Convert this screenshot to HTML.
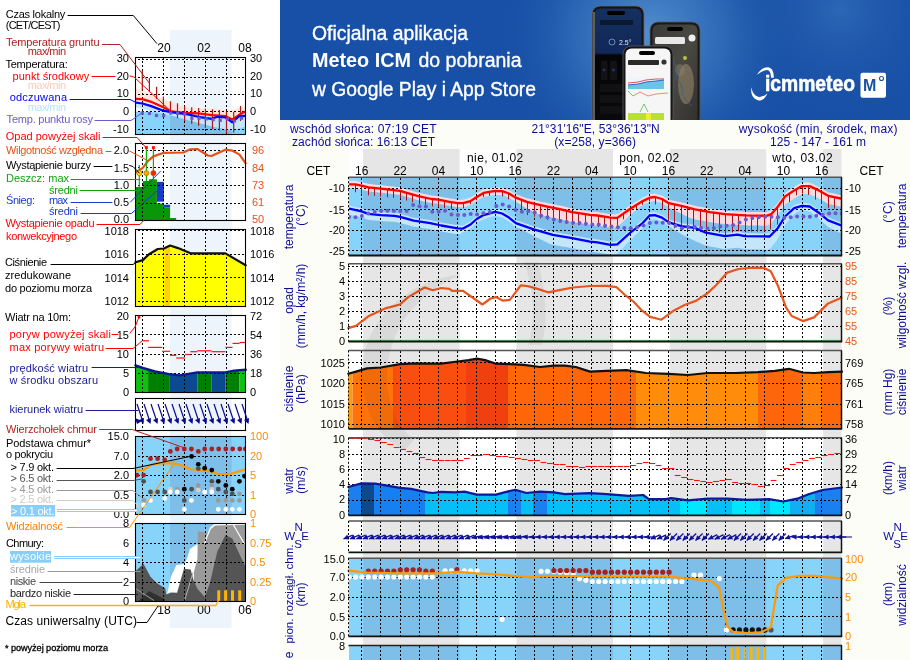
<!DOCTYPE html><html><head><meta charset="utf-8"><style>html,body{margin:0;padding:0;background:#fff;width:910px;height:660px;overflow:hidden;font-family:"Liberation Sans", sans-serif;}svg{display:block;will-change:transform;transform:translateZ(0);}</style></head><body><svg width="910" height="660" viewBox="0 0 910 660" style='font-family: "Liberation Sans", sans-serif;'>
<rect x="0" y="0" width="910" height="660" fill="#fdfdf8"/>
<rect x="0" y="0" width="280" height="660" fill="#ffffff"/>
<rect x="349.0" y="149" width="492.5" height="511" fill="#ffffff"/>
<rect x="363.1" y="149" width="96.5" height="511" fill="#e6e6e6"/>
<rect x="516.5" y="149" width="96.5" height="511" fill="#e6e6e6"/>
<rect x="669.8" y="149" width="96.5" height="511" fill="#e6e6e6"/>
<rect x="823.1" y="149" width="18.4" height="511" fill="#e6e6e6"/>
<clipPath id="cT"><rect x="348.97" y="177.2" width="492.53" height="78.30000000000001"/></clipPath>
<rect x="349.0" y="177.2" width="492.5" height="78.3" fill="#87d3fa"/><rect x="363.1" y="177.2" width="96.5" height="78.3" fill="#7ebfea"/><rect x="516.5" y="177.2" width="96.5" height="78.3" fill="#7ebfea"/><rect x="669.8" y="177.2" width="96.5" height="78.3" fill="#7ebfea"/><rect x="823.1" y="177.2" width="18.4" height="78.3" fill="#7ebfea"/>
<g clip-path="url(#cT)">
<polygon points="348.0,205.4 350.0,205.8 352.0,206.3 354.0,206.7 356.0,207.2 358.0,207.6 360.0,208.1 362.0,208.6 364.0,209.3 366.0,210.0 368.0,210.8 370.0,211.1 372.0,211.3 374.0,211.4 376.0,211.6 378.0,211.8 380.0,212.0 382.0,212.2 384.0,212.3 386.0,212.4 388.0,212.5 390.0,212.6 392.0,212.7 394.0,212.8 396.0,213.1 398.0,213.5 400.0,213.9 402.0,214.5 404.0,215.0 406.0,215.6 408.0,216.1 410.0,216.7 412.0,217.2 414.0,217.7 416.0,218.0 418.0,218.3 420.0,218.6 422.0,218.9 424.0,219.2 426.0,219.5 428.0,219.8 430.0,220.1 432.0,220.5 434.0,220.9 436.0,221.4 438.0,221.8 440.0,222.2 442.0,222.6 444.0,223.0 446.0,223.3 448.0,223.7 450.0,224.0 452.0,224.3 454.0,224.7 456.0,225.0 458.0,225.3 460.0,225.4 462.0,225.5 464.0,225.1 466.0,224.0 468.0,222.9 470.0,221.8 472.0,220.2 474.0,218.4 476.0,216.6 478.0,215.3 480.0,214.1 482.0,213.0 484.0,212.0 486.0,211.4 488.0,210.8 490.0,210.3 492.0,209.7 494.0,209.1 496.0,209.0 498.0,209.5 500.0,210.0 502.0,210.5 504.0,211.6 506.0,212.8 508.0,214.0 510.0,215.4 512.0,217.0 514.0,218.6 516.0,220.2 518.0,220.9 520.0,221.6 522.0,222.2 524.0,222.9 526.0,223.6 528.0,224.3 530.0,225.0 532.0,225.7 534.0,226.4 536.0,227.0 538.0,227.5 540.0,228.1 542.0,228.7 544.0,229.3 546.0,229.8 548.0,230.4 550.0,231.0 552.0,231.5 554.0,232.0 556.0,232.3 558.0,232.7 560.0,233.1 562.0,233.4 564.0,233.8 566.0,234.1 568.0,234.5 570.0,234.8 572.0,235.2 574.0,235.6 576.0,235.9 578.0,236.3 580.0,236.7 582.0,237.1 584.0,237.5 586.0,237.8 588.0,238.2 590.0,238.6 592.0,238.8 594.0,239.0 596.0,239.2 598.0,239.4 600.0,239.8 602.0,240.2 604.0,240.6 606.0,241.0 608.0,241.3 610.0,241.7 612.0,241.7 614.0,241.6 616.0,241.5 618.0,240.8 620.0,239.0 622.0,237.2 624.0,235.4 626.0,233.6 628.0,231.8 630.0,230.0 632.0,228.4 634.0,226.8 636.0,225.3 638.0,223.7 640.0,222.2 642.0,220.6 644.0,218.7 646.0,216.5 648.0,214.3 650.0,212.5 652.0,212.3 654.0,212.2 656.0,212.5 658.0,213.2 660.0,213.9 662.0,214.7 664.0,216.1 666.0,217.5 668.0,218.8 670.0,219.8 672.0,220.4 674.0,221.0 676.0,221.5 678.0,222.1 680.0,222.7 682.0,223.2 684.0,223.5 686.0,223.7 688.0,224.0 690.0,224.3 692.0,224.5 694.0,224.8 696.0,225.4 698.0,226.3 700.0,227.1 702.0,228.0 704.0,228.9 706.0,229.7 708.0,230.1 710.0,230.5 712.0,230.8 714.0,231.2 716.0,231.6 718.0,231.9 720.0,232.3 722.0,232.7 724.0,233.0 726.0,233.1 728.0,232.8 730.0,232.6 732.0,232.3 734.0,232.1 736.0,231.9 738.0,231.8 740.0,232.2 742.0,232.6 744.0,233.0 746.0,233.2 748.0,233.2 750.0,233.3 752.0,233.3 754.0,233.3 756.0,233.3 758.0,233.4 760.0,233.4 762.0,233.4 764.0,233.4 766.0,233.5 768.0,233.5 770.0,233.1 772.0,231.1 774.0,229.1 776.0,227.1 778.0,224.7 780.0,221.5 782.0,218.3 784.0,215.1 786.0,212.6 788.0,210.8 790.0,208.9 792.0,207.1 794.0,205.3 796.0,204.6 798.0,204.0 800.0,203.4 802.0,202.8 804.0,203.0 806.0,203.2 808.0,203.4 810.0,203.8 812.0,205.1 814.0,206.5 816.0,207.8 818.0,209.2 820.0,210.7 822.0,212.3 824.0,214.0 826.0,215.7 828.0,217.3 830.0,218.1 832.0,218.9 834.0,219.7 836.0,220.5 838.0,221.2 840.0,222.0 842.0,222.8 842.0,233.8 840.0,232.8 838.0,231.9 836.0,230.9 834.0,229.9 832.0,229.0 830.0,228.0 828.0,227.0 826.0,225.1 824.0,223.3 822.0,221.4 820.0,219.6 818.0,217.9 816.0,216.3 814.0,214.8 812.0,213.3 810.0,211.7 808.0,211.1 806.0,210.7 804.0,210.4 802.0,210.0 800.0,210.4 798.0,211.6 796.0,212.8 794.0,214.1 792.0,216.5 790.0,218.9 788.0,221.4 786.0,223.8 784.0,226.9 782.0,230.7 780.0,234.5 778.0,238.3 776.0,241.3 774.0,243.9 772.0,246.5 770.0,249.1 768.0,249.5 766.0,249.5 764.0,249.4 762.0,249.4 760.0,249.4 758.0,249.4 756.0,249.3 754.0,249.3 752.0,249.3 750.0,249.3 748.0,249.2 746.0,249.2 744.0,249.0 742.0,248.6 740.0,248.2 738.0,247.8 736.0,247.9 734.0,248.1 732.0,248.3 730.0,248.6 728.0,248.8 726.0,249.1 724.0,249.0 722.0,248.7 720.0,248.3 718.0,247.9 716.0,247.6 714.0,247.2 712.0,246.8 710.0,246.5 708.0,246.1 706.0,245.7 704.0,244.9 702.0,244.0 700.0,243.1 698.0,242.3 696.0,241.4 694.0,240.4 692.0,239.4 690.0,238.5 688.0,237.5 686.0,236.5 684.0,235.5 682.0,234.5 680.0,233.3 678.0,232.0 676.0,230.7 674.0,229.4 672.0,228.1 670.0,226.8 668.0,225.8 666.0,224.5 664.0,223.1 662.0,221.7 660.0,220.9 658.0,220.2 656.0,219.5 654.0,219.2 652.0,219.3 650.0,219.5 648.0,221.6 646.0,224.2 644.0,226.7 642.0,229.0 640.0,230.9 638.0,232.8 636.0,234.7 634.0,236.6 632.0,238.5 630.0,240.4 628.0,242.5 626.0,244.7 624.0,246.8 622.0,249.0 620.0,251.1 618.0,253.3 616.0,254.3 614.0,254.6 612.0,254.7 610.0,254.7 608.0,254.3 606.0,254.0 604.0,253.6 602.0,253.2 600.0,252.8 598.0,252.4 596.0,252.2 594.0,252.0 592.0,251.8 590.0,251.6 588.0,251.2 586.0,250.8 584.0,250.5 582.0,250.1 580.0,249.7 578.0,249.3 576.0,248.9 574.0,248.6 572.0,248.2 570.0,247.8 568.0,247.5 566.0,247.1 564.0,246.8 562.0,246.4 560.0,246.1 558.0,245.7 556.0,245.3 554.0,245.0 552.0,244.5 550.0,244.0 548.0,243.0 546.0,242.0 544.0,241.1 542.0,240.1 540.0,239.1 538.0,238.1 536.0,237.2 534.0,236.2 532.0,235.1 530.0,234.0 528.0,232.9 526.0,231.8 524.0,230.7 522.0,229.6 520.0,228.6 518.0,227.9 516.0,227.2 514.0,225.6 512.0,224.0 510.0,222.4 508.0,221.0 506.0,219.8 504.0,218.6 502.0,217.5 500.0,217.0 498.0,216.5 496.0,216.0 494.0,216.1 492.0,216.7 490.0,217.3 488.0,217.8 486.0,218.4 484.0,219.0 482.0,220.0 480.0,221.1 478.0,222.3 476.0,223.6 474.0,225.4 472.0,227.2 470.0,228.8 468.0,229.9 466.0,231.0 464.0,232.1 462.0,232.5 460.0,234.4 458.0,234.3 456.0,234.0 454.0,233.7 452.0,233.3 450.0,233.0 448.0,232.7 446.0,232.3 444.0,232.0 442.0,231.6 440.0,231.2 438.0,230.8 436.0,230.4 434.0,229.9 432.0,229.5 430.0,229.1 428.0,228.8 426.0,228.5 424.0,228.2 422.0,227.9 420.0,227.6 418.0,227.3 416.0,227.0 414.0,226.7 412.0,226.2 410.0,225.7 408.0,225.1 406.0,224.6 404.0,224.0 402.0,223.5 400.0,222.9 398.0,222.5 396.0,222.1 394.0,221.8 392.0,221.7 390.0,221.6 388.0,221.5 386.0,221.4 384.0,221.3 382.0,221.2 380.0,221.0 378.0,220.8 376.0,220.6 374.0,220.4 372.0,220.3 370.0,220.1 368.0,219.8 366.0,219.0 364.0,218.3 362.0,217.6 360.0,217.1 358.0,216.6 356.0,216.2 354.0,215.7 352.0,215.3 350.0,214.8 348.0,214.4" fill="#c4e6fb" />
<polygon points="348.0,180.8 350.0,180.8 352.0,180.8 354.0,180.8 356.0,181.0 358.0,181.4 360.0,181.9 362.0,182.3 364.0,182.8 366.0,183.3 368.0,183.8 370.0,184.1 372.0,184.3 374.0,184.5 376.0,184.7 378.0,184.9 380.0,185.1 382.0,185.3 384.0,185.6 386.0,185.8 388.0,186.0 390.0,186.2 392.0,186.4 394.0,186.6 396.0,186.9 398.0,187.1 400.0,187.3 402.0,187.9 404.0,188.5 406.0,189.2 408.0,189.7 410.0,190.3 412.0,190.8 414.0,191.4 416.0,191.9 418.0,192.5 420.0,193.0 422.0,193.4 424.0,193.9 426.0,194.3 428.0,194.7 430.0,195.2 432.0,195.6 434.0,195.8 436.0,196.0 438.0,196.2 440.0,196.5 442.0,196.9 444.0,197.3 446.0,197.7 448.0,198.0 450.0,198.4 452.0,198.7 454.0,199.1 456.0,199.4 458.0,199.7 460.0,199.7 462.0,199.7 464.0,199.4 466.0,198.9 468.0,198.3 470.0,197.7 472.0,196.6 474.0,195.3 476.0,194.0 478.0,192.7 480.0,191.5 482.0,190.3 484.0,189.3 486.0,189.0 488.0,188.6 490.0,188.2 492.0,187.9 494.0,187.5 496.0,187.3 498.0,187.5 500.0,187.6 502.0,187.7 504.0,188.3 506.0,189.0 508.0,189.7 510.0,190.6 512.0,191.9 514.0,193.1 516.0,194.3 518.0,195.0 520.0,195.8 522.0,196.5 524.0,197.3 526.0,198.0 528.0,198.6 530.0,199.1 532.0,199.6 534.0,200.1 536.0,200.5 538.0,201.0 540.0,201.4 542.0,201.9 544.0,202.3 546.0,202.8 548.0,203.2 550.0,203.6 552.0,204.0 554.0,204.4 556.0,204.8 558.0,205.2 560.0,205.6 562.0,206.1 564.0,206.6 566.0,207.1 568.0,207.6 570.0,208.1 572.0,208.6 574.0,208.9 576.0,209.2 578.0,209.5 580.0,209.8 582.0,210.1 584.0,210.4 586.0,210.7 588.0,211.0 590.0,211.3 592.0,211.5 594.0,211.7 596.0,211.9 598.0,212.1 600.0,212.4 602.0,212.7 604.0,213.1 606.0,213.4 608.0,213.7 610.0,214.0 612.0,214.2 614.0,214.3 616.0,214.3 618.0,213.9 620.0,212.5 622.0,211.1 624.0,209.7 626.0,208.2 628.0,206.8 630.0,205.4 632.0,204.2 634.0,202.9 636.0,201.7 638.0,200.5 640.0,199.3 642.0,198.0 644.0,197.0 646.0,196.0 648.0,195.0 650.0,194.1 652.0,193.9 654.0,193.6 656.0,193.8 658.0,194.4 660.0,194.9 662.0,195.6 664.0,196.8 666.0,198.0 668.0,199.2 670.0,200.0 672.0,200.4 674.0,200.8 676.0,201.3 678.0,201.7 680.0,202.1 682.0,202.6 684.0,203.1 686.0,203.6 688.0,204.1 690.0,204.6 692.0,205.1 694.0,205.6 696.0,206.0 698.0,206.4 700.0,206.7 702.0,207.1 704.0,207.5 706.0,207.9 708.0,208.2 710.0,208.6 712.0,208.9 714.0,209.2 716.0,209.4 718.0,209.7 720.0,210.0 722.0,210.3 724.0,210.6 726.0,210.8 728.0,210.9 730.0,211.0 732.0,211.1 734.0,211.2 736.0,211.3 738.0,211.4 740.0,211.5 742.0,211.6 744.0,211.7 746.0,211.8 748.0,211.9 750.0,211.9 752.0,212.0 754.0,212.0 756.0,212.1 758.0,212.1 760.0,212.1 762.0,212.2 764.0,212.2 766.0,212.3 768.0,211.8 770.0,211.1 772.0,209.8 774.0,207.5 776.0,205.3 778.0,202.8 780.0,200.0 782.0,197.2 784.0,194.4 786.0,192.3 788.0,191.0 790.0,189.7 792.0,188.4 794.0,187.0 796.0,185.9 798.0,184.8 800.0,183.7 802.0,182.6 804.0,182.6 806.0,182.6 808.0,182.6 810.0,182.8 812.0,183.7 814.0,184.7 816.0,185.6 818.0,186.5 820.0,187.6 822.0,188.8 824.0,189.9 826.0,191.1 828.0,192.2 830.0,192.7 832.0,193.1 834.0,193.6 836.0,194.0 838.0,194.4 840.0,194.9 842.0,195.3 842.0,206.8 840.0,206.4 838.0,205.9 836.0,205.5 834.0,205.1 832.0,204.6 830.0,204.2 828.0,203.7 826.0,202.6 824.0,201.4 822.0,200.3 820.0,199.1 818.0,198.0 816.0,197.1 814.0,196.2 812.0,195.2 810.0,194.3 808.0,194.1 806.0,194.1 804.0,194.1 802.0,194.1 800.0,195.2 798.0,196.3 796.0,197.4 794.0,198.5 792.0,199.9 790.0,201.2 788.0,202.5 786.0,203.8 784.0,205.9 782.0,208.7 780.0,211.5 778.0,214.6 776.0,217.3 774.0,219.8 772.0,222.4 770.0,223.9 768.0,224.9 766.0,225.7 764.0,225.7 762.0,225.7 760.0,225.6 758.0,225.6 756.0,225.6 754.0,225.5 752.0,225.5 750.0,225.4 748.0,225.4 746.0,225.3 744.0,225.2 742.0,225.1 740.0,225.0 738.0,224.9 736.0,224.8 734.0,224.7 732.0,224.6 730.0,224.5 728.0,224.4 726.0,224.3 724.0,224.1 722.0,223.8 720.0,223.5 718.0,223.2 716.0,222.9 714.0,222.7 712.0,222.4 710.0,222.1 708.0,221.7 706.0,221.4 704.0,221.0 702.0,220.6 700.0,220.2 698.0,219.9 696.0,219.5 694.0,219.1 692.0,218.6 690.0,218.1 688.0,217.0 686.0,216.0 684.0,215.0 682.0,213.9 680.0,212.9 678.0,211.9 676.0,210.9 674.0,210.0 672.0,209.0 670.0,208.0 668.0,206.7 666.0,205.5 664.0,204.3 662.0,203.1 660.0,202.4 658.0,201.9 656.0,201.3 654.0,201.1 652.0,201.4 650.0,201.6 648.0,202.5 646.0,203.5 644.0,204.5 642.0,205.5 640.0,206.8 638.0,208.4 636.0,210.1 634.0,211.8 632.0,213.4 630.0,215.1 628.0,217.0 626.0,218.9 624.0,220.7 622.0,222.6 620.0,224.4 618.0,226.3 616.0,227.2 614.0,227.5 612.0,227.7 610.0,227.5 608.0,227.2 606.0,226.9 604.0,226.6 602.0,226.2 600.0,225.9 598.0,225.6 596.0,225.4 594.0,225.2 592.0,225.0 590.0,224.8 588.0,224.5 586.0,224.2 584.0,223.9 582.0,223.6 580.0,223.3 578.0,223.0 576.0,222.7 574.0,222.4 572.0,222.1 570.0,221.6 568.0,221.1 566.0,220.6 564.0,220.1 562.0,219.6 560.0,219.1 558.0,218.7 556.0,218.3 554.0,217.9 552.0,217.5 550.0,217.1 548.0,216.7 546.0,216.3 544.0,215.8 542.0,215.4 540.0,214.9 538.0,214.0 536.0,213.0 534.0,212.1 532.0,211.1 530.0,210.1 528.0,209.1 526.0,208.0 524.0,206.8 522.0,205.5 520.0,204.3 518.0,203.0 516.0,201.8 514.0,200.6 512.0,199.4 510.0,198.1 508.0,197.2 506.0,196.5 504.0,195.8 502.0,195.2 500.0,195.1 498.0,195.0 496.0,194.8 494.0,195.0 492.0,195.4 490.0,195.7 488.0,196.1 486.0,196.5 484.0,196.8 482.0,197.8 480.0,199.0 478.0,200.2 476.0,201.5 474.0,202.8 472.0,204.1 470.0,205.2 468.0,205.8 466.0,206.4 464.0,206.9 462.0,207.2 460.0,207.2 458.0,207.2 456.0,206.9 454.0,206.6 452.0,206.2 450.0,205.9 448.0,205.5 446.0,205.2 444.0,204.8 442.0,204.4 440.0,204.0 438.0,203.7 436.0,203.5 434.0,203.3 432.0,203.1 430.0,202.7 428.0,202.2 426.0,201.8 424.0,201.4 422.0,200.9 420.0,200.5 418.0,200.0 416.0,199.4 414.0,198.9 412.0,198.3 410.0,197.8 408.0,197.2 406.0,196.7 404.0,196.0 402.0,195.4 400.0,194.8 398.0,194.6 396.0,194.4 394.0,194.1 392.0,193.9 390.0,193.7 388.0,193.5 386.0,193.3 384.0,193.1 382.0,192.8 380.0,192.6 378.0,192.4 376.0,192.2 374.0,192.0 372.0,191.8 370.0,191.6 368.0,191.3 366.0,190.8 364.0,190.3 362.0,189.8 360.0,189.4 358.0,188.9 356.0,188.5 354.0,188.3 352.0,188.3 350.0,188.3 348.0,188.3" fill="#ffd9dc" />
</g>
<line x1="361.5" y1="178.0" x2="361.5" y2="255.5" stroke="#000" stroke-width="1" stroke-dasharray="2,2"/><line x1="380.5" y1="178.0" x2="380.5" y2="255.5" stroke="#000" stroke-width="1" stroke-dasharray="2,2"/><line x1="400.5" y1="178.0" x2="400.5" y2="255.5" stroke="#000" stroke-width="1" stroke-dasharray="2,2"/><line x1="419.5" y1="178.0" x2="419.5" y2="255.5" stroke="#000" stroke-width="1" stroke-dasharray="2,2"/><line x1="438.5" y1="178.0" x2="438.5" y2="255.5" stroke="#000" stroke-width="1" stroke-dasharray="2,2"/><line x1="457.5" y1="178.0" x2="457.5" y2="255.5" stroke="#000" stroke-width="1" stroke-dasharray="2,2"/><line x1="476.5" y1="178.0" x2="476.5" y2="255.5" stroke="#000" stroke-width="1" stroke-dasharray="2,2"/><line x1="495.5" y1="178.0" x2="495.5" y2="255.5" stroke="#000" stroke-width="1" stroke-dasharray="2,2"/><line x1="515.5" y1="178.0" x2="515.5" y2="255.5" stroke="#000" stroke-width="1" stroke-dasharray="2,2"/><line x1="534.5" y1="178.0" x2="534.5" y2="255.5" stroke="#000" stroke-width="1" stroke-dasharray="2,2"/><line x1="553.5" y1="178.0" x2="553.5" y2="255.5" stroke="#000" stroke-width="1" stroke-dasharray="2,2"/><line x1="572.5" y1="178.0" x2="572.5" y2="255.5" stroke="#000" stroke-width="1" stroke-dasharray="2,2"/><line x1="591.5" y1="178.0" x2="591.5" y2="255.5" stroke="#000" stroke-width="1" stroke-dasharray="2,2"/><line x1="610.5" y1="178.0" x2="610.5" y2="255.5" stroke="#000" stroke-width="1" stroke-dasharray="2,2"/><line x1="630.5" y1="178.0" x2="630.5" y2="255.5" stroke="#000" stroke-width="1" stroke-dasharray="2,2"/><line x1="649.5" y1="178.0" x2="649.5" y2="255.5" stroke="#000" stroke-width="1" stroke-dasharray="2,2"/><line x1="668.5" y1="178.0" x2="668.5" y2="255.5" stroke="#000" stroke-width="1" stroke-dasharray="2,2"/><line x1="687.5" y1="178.0" x2="687.5" y2="255.5" stroke="#000" stroke-width="1" stroke-dasharray="2,2"/><line x1="706.5" y1="178.0" x2="706.5" y2="255.5" stroke="#000" stroke-width="1" stroke-dasharray="2,2"/><line x1="725.5" y1="178.0" x2="725.5" y2="255.5" stroke="#000" stroke-width="1" stroke-dasharray="2,2"/><line x1="745.5" y1="178.0" x2="745.5" y2="255.5" stroke="#000" stroke-width="1" stroke-dasharray="2,2"/><line x1="764.5" y1="178.0" x2="764.5" y2="255.5" stroke="#000" stroke-width="1" stroke-dasharray="2,2"/><line x1="783.5" y1="178.0" x2="783.5" y2="255.5" stroke="#000" stroke-width="1" stroke-dasharray="2,2"/><line x1="802.5" y1="178.0" x2="802.5" y2="255.5" stroke="#000" stroke-width="1" stroke-dasharray="2,2"/><line x1="821.5" y1="178.0" x2="821.5" y2="255.5" stroke="#000" stroke-width="1" stroke-dasharray="2,2"/><line x1="348.0" y1="188.5" x2="841.5" y2="188.5" stroke="#000" stroke-width="1" stroke-dasharray="2,2"/><line x1="348.0" y1="209.5" x2="841.5" y2="209.5" stroke="#000" stroke-width="1" stroke-dasharray="2,2"/><line x1="348.0" y1="230.5" x2="841.5" y2="230.5" stroke="#000" stroke-width="1" stroke-dasharray="2,2"/><line x1="348.0" y1="250.5" x2="841.5" y2="250.5" stroke="#000" stroke-width="1" stroke-dasharray="2,2"/>
<g clip-path="url(#cT)"><line x1="355.5" y1="184.3" x2="355.5" y2="192.3" stroke="#a81414" stroke-width="1.0" /><line x1="361.5" y1="185.8" x2="361.5" y2="193.8" stroke="#a81414" stroke-width="1.0" /><line x1="368.5" y1="187.3" x2="368.5" y2="195.3" stroke="#a81414" stroke-width="1.0" /><line x1="374.5" y1="188.0" x2="374.5" y2="196.0" stroke="#a81414" stroke-width="1.0" /><line x1="380.5" y1="188.7" x2="380.5" y2="196.7" stroke="#a81414" stroke-width="1.0" /><line x1="387.5" y1="189.4" x2="387.5" y2="197.3" stroke="#a81414" stroke-width="1.0" /><line x1="393.5" y1="190.1" x2="393.5" y2="197.9" stroke="#a81414" stroke-width="1.0" /><line x1="400.5" y1="190.8" x2="400.5" y2="198.6" stroke="#a81414" stroke-width="1.0" /><line x1="406.5" y1="192.8" x2="406.5" y2="200.5" stroke="#a81414" stroke-width="1.0" /><line x1="412.5" y1="194.6" x2="412.5" y2="202.2" stroke="#a81414" stroke-width="1.0" /><line x1="419.5" y1="196.3" x2="419.5" y2="203.8" stroke="#a81414" stroke-width="1.0" /><line x1="425.5" y1="197.7" x2="425.5" y2="205.1" stroke="#a81414" stroke-width="1.0" /><line x1="432.5" y1="199.1" x2="432.5" y2="206.4" stroke="#a81414" stroke-width="1.0" /><line x1="438.5" y1="199.7" x2="438.5" y2="207.0" stroke="#a81414" stroke-width="1.0" /><line x1="444.5" y1="200.9" x2="444.5" y2="208.1" stroke="#a81414" stroke-width="1.0" /><line x1="451.5" y1="202.1" x2="451.5" y2="209.2" stroke="#a81414" stroke-width="1.0" /><line x1="457.5" y1="203.2" x2="457.5" y2="210.2" stroke="#a81414" stroke-width="1.0" /><line x1="463.5" y1="203.0" x2="463.5" y2="208.4" stroke="#a81414" stroke-width="1.0" /><line x1="470.5" y1="201.1" x2="470.5" y2="204.2" stroke="#a81414" stroke-width="1.0" /><line x1="476.5" y1="197.0" x2="476.5" y2="200.3" stroke="#a81414" stroke-width="1.0" /><line x1="483.5" y1="193.1" x2="483.5" y2="196.8" stroke="#a81414" stroke-width="1.0" /><line x1="489.5" y1="191.8" x2="489.5" y2="195.8" stroke="#a81414" stroke-width="1.0" /><line x1="495.5" y1="190.8" x2="495.5" y2="195.3" stroke="#a81414" stroke-width="1.0" /><line x1="502.5" y1="191.3" x2="502.5" y2="196.3" stroke="#a81414" stroke-width="1.0" /><line x1="508.5" y1="193.4" x2="508.5" y2="199.4" stroke="#a81414" stroke-width="1.0" /><line x1="515.5" y1="197.3" x2="515.5" y2="206.4" stroke="#a81414" stroke-width="1.0" /><line x1="521.5" y1="199.8" x2="521.5" y2="211.1" stroke="#a81414" stroke-width="1.0" /><line x1="527.5" y1="202.1" x2="527.5" y2="215.1" stroke="#a81414" stroke-width="1.0" /><line x1="534.5" y1="203.6" x2="534.5" y2="216.8" stroke="#a81414" stroke-width="1.0" /><line x1="540.5" y1="205.1" x2="540.5" y2="218.4" stroke="#a81414" stroke-width="1.0" /><line x1="547.5" y1="206.5" x2="547.5" y2="219.9" stroke="#a81414" stroke-width="1.0" /><line x1="553.5" y1="207.8" x2="553.5" y2="221.4" stroke="#a81414" stroke-width="1.0" /><line x1="559.5" y1="209.1" x2="559.5" y2="222.8" stroke="#a81414" stroke-width="1.0" /><line x1="566.5" y1="210.7" x2="566.5" y2="223.9" stroke="#a81414" stroke-width="1.0" /><line x1="572.5" y1="212.2" x2="572.5" y2="224.9" stroke="#a81414" stroke-width="1.0" /><line x1="578.5" y1="213.1" x2="578.5" y2="225.3" stroke="#a81414" stroke-width="1.0" /><line x1="585.5" y1="214.1" x2="585.5" y2="225.8" stroke="#a81414" stroke-width="1.0" /><line x1="591.5" y1="215.0" x2="591.5" y2="226.5" stroke="#a81414" stroke-width="1.0" /><line x1="598.5" y1="215.6" x2="598.5" y2="227.0" stroke="#a81414" stroke-width="1.0" /><line x1="604.5" y1="216.7" x2="604.5" y2="227.9" stroke="#a81414" stroke-width="1.0" /><line x1="610.5" y1="217.6" x2="610.5" y2="228.7" stroke="#a81414" stroke-width="1.0" /><line x1="617.5" y1="217.9" x2="617.5" y2="226.7" stroke="#a81414" stroke-width="1.0" /><line x1="623.5" y1="213.4" x2="623.5" y2="219.3" stroke="#a81414" stroke-width="1.0" /><line x1="630.5" y1="208.9" x2="630.5" y2="213.8" stroke="#a81414" stroke-width="1.0" /><line x1="636.5" y1="204.9" x2="636.5" y2="209.0" stroke="#a81414" stroke-width="1.0" /><line x1="642.5" y1="201.0" x2="642.5" y2="204.8" stroke="#a81414" stroke-width="1.0" /><line x1="649.5" y1="197.9" x2="649.5" y2="201.3" stroke="#a81414" stroke-width="1.0" /><line x1="655.5" y1="197.2" x2="655.5" y2="204.4" stroke="#a81414" stroke-width="1.0" /><line x1="662.5" y1="199.1" x2="662.5" y2="209.6" stroke="#a81414" stroke-width="1.0" /><line x1="668.5" y1="203.0" x2="668.5" y2="221.2" stroke="#a81414" stroke-width="1.0" /><line x1="674.5" y1="204.5" x2="674.5" y2="228.3" stroke="#a81414" stroke-width="1.0" /><line x1="681.5" y1="205.9" x2="681.5" y2="229.4" stroke="#a81414" stroke-width="1.0" /><line x1="687.5" y1="207.5" x2="687.5" y2="230.5" stroke="#a81414" stroke-width="1.0" /><line x1="693.5" y1="209.1" x2="693.5" y2="231.6" stroke="#a81414" stroke-width="1.0" /><line x1="700.5" y1="210.3" x2="700.5" y2="232.2" stroke="#a81414" stroke-width="1.0" /><line x1="706.5" y1="211.5" x2="706.5" y2="231.7" stroke="#a81414" stroke-width="1.0" /><line x1="713.5" y1="212.5" x2="713.5" y2="231.1" stroke="#a81414" stroke-width="1.0" /><line x1="719.5" y1="213.4" x2="719.5" y2="232.7" stroke="#a81414" stroke-width="1.0" /><line x1="725.5" y1="214.3" x2="725.5" y2="234.2" stroke="#a81414" stroke-width="1.0" /><line x1="732.5" y1="214.6" x2="732.5" y2="232.5" stroke="#a81414" stroke-width="1.0" /><line x1="738.5" y1="215.0" x2="738.5" y2="231.0" stroke="#a81414" stroke-width="1.0" /><line x1="745.5" y1="215.3" x2="745.5" y2="231.3" stroke="#a81414" stroke-width="1.0" /><line x1="751.5" y1="215.5" x2="751.5" y2="231.5" stroke="#a81414" stroke-width="1.0" /><line x1="757.5" y1="215.6" x2="757.5" y2="231.6" stroke="#a81414" stroke-width="1.0" /><line x1="764.5" y1="215.7" x2="764.5" y2="231.3" stroke="#a81414" stroke-width="1.0" /><line x1="770.5" y1="214.4" x2="770.5" y2="229.4" stroke="#a81414" stroke-width="1.0" /><line x1="777.5" y1="207.6" x2="777.5" y2="224.6" stroke="#a81414" stroke-width="1.0" /><line x1="783.5" y1="198.7" x2="783.5" y2="212.4" stroke="#a81414" stroke-width="1.0" /><line x1="789.5" y1="193.3" x2="789.5" y2="202.0" stroke="#a81414" stroke-width="1.0" /><line x1="796.5" y1="189.3" x2="796.5" y2="195.3" stroke="#a81414" stroke-width="1.0" /><line x1="802.5" y1="186.1" x2="802.5" y2="193.5" stroke="#a81414" stroke-width="1.0" /><line x1="808.5" y1="186.1" x2="808.5" y2="194.9" stroke="#a81414" stroke-width="1.0" /><line x1="815.5" y1="188.8" x2="815.5" y2="199.6" stroke="#a81414" stroke-width="1.0" /><line x1="821.5" y1="192.1" x2="821.5" y2="203.6" stroke="#a81414" stroke-width="1.0" /><line x1="828.5" y1="195.8" x2="828.5" y2="207.8" stroke="#a81414" stroke-width="1.0" /><line x1="834.5" y1="197.2" x2="834.5" y2="208.7" stroke="#a81414" stroke-width="1.0" /></g>
<polyline points="348.0,184.3 355.3,184.3 361.5,185.7 368.4,187.4 380.7,188.7 400.0,190.8 406.8,192.9 419.2,196.3 431.5,199.0 438.4,199.7 449.4,201.8 457.6,203.2 463.1,203.2 470.5,201.1 476.7,197.0 483.5,192.9 495.2,190.8 502.1,191.2 509.0,193.5 515.8,197.7 526.8,201.8 535.0,203.8 547.4,206.6 559.8,209.1 572.1,212.1 590.0,214.8 597.4,215.5 610.4,217.6 617.3,217.9 630.3,208.7 642.7,201.1 649.6,197.7 655.0,197.0 661.9,199.0 668.8,203.2 681.2,205.9 694.9,209.3 710.0,212.1 725.0,214.2 745.0,215.3 766.5,215.8 771.2,214.2 777.3,207.3 785.0,196.5 794.2,190.4 801.9,186.1 809.6,186.1 818.8,190.4 828.1,195.8 842.0,198.8" fill="none" stroke="#ff0000" stroke-width="2.3" stroke-linejoin="round" stroke-linecap="round" clip-path="url(#cT)"/>
<polyline points="348.0,208.4 361.5,211.4 368.4,213.9 380.7,215.1 394.5,215.8 400.0,216.9 413.7,220.7 430.2,223.1 441.2,225.5 457.6,228.3 463.1,228.6 470.5,224.5 476.7,219.0 483.5,215.1 495.2,211.8 502.1,213.5 509.0,217.6 515.8,223.1 533.7,229.3 552.9,234.8 572.1,238.2 590.0,241.6 597.4,242.3 610.4,244.8 617.3,244.4 630.3,232.7 642.7,223.1 649.6,215.5 655.0,215.1 661.9,217.6 668.8,222.4 681.2,226.1 694.9,227.9 705.9,232.7 725.0,236.2 737.3,234.7 745.0,236.2 769.6,236.5 777.3,228.8 785.0,216.5 794.2,208.1 801.9,205.8 809.6,206.5 818.8,212.7 828.1,220.4 842.0,225.8" fill="none" stroke="#0000ff" stroke-width="2.3" stroke-linejoin="round" stroke-linecap="round" clip-path="url(#cT)"/>
<g clip-path="url(#cT)"><circle cx="349.1" cy="216.9" r="2.0" fill="#6a5acd"/><circle cx="355.5" cy="217.3" r="2.0" fill="#6a5acd"/><circle cx="361.9" cy="215.9" r="2.0" fill="#6a5acd"/><circle cx="368.3" cy="213.5" r="2.0" fill="#6a5acd"/><circle cx="374.7" cy="212.1" r="2.0" fill="#6a5acd"/><circle cx="381.1" cy="211.0" r="2.0" fill="#6a5acd"/><circle cx="387.5" cy="210.7" r="2.0" fill="#6a5acd"/><circle cx="393.9" cy="211.0" r="2.0" fill="#6a5acd"/><circle cx="400.3" cy="211.0" r="2.0" fill="#6a5acd"/><circle cx="406.7" cy="211.0" r="2.0" fill="#6a5acd"/><circle cx="413.1" cy="204.9" r="2.0" fill="#6a5acd"/><circle cx="419.5" cy="206.3" r="2.0" fill="#6a5acd"/><circle cx="425.9" cy="206.6" r="2.0" fill="#6a5acd"/><circle cx="432.3" cy="211.8" r="2.0" fill="#6a5acd"/><circle cx="438.7" cy="211.8" r="2.0" fill="#6a5acd"/><circle cx="445.1" cy="210.7" r="2.0" fill="#6a5acd"/><circle cx="451.5" cy="214.6" r="2.0" fill="#6a5acd"/><circle cx="457.9" cy="215.1" r="2.0" fill="#6a5acd"/><circle cx="464.3" cy="215.1" r="2.0" fill="#6a5acd"/><circle cx="470.7" cy="214.1" r="2.0" fill="#6a5acd"/><circle cx="477.1" cy="214.4" r="2.0" fill="#6a5acd"/><circle cx="483.5" cy="213.2" r="2.0" fill="#6a5acd"/><circle cx="489.9" cy="212.1" r="2.0" fill="#6a5acd"/><circle cx="496.3" cy="205.9" r="2.0" fill="#6a5acd"/><circle cx="502.7" cy="204.5" r="2.0" fill="#6a5acd"/><circle cx="509.1" cy="206.6" r="2.0" fill="#6a5acd"/><circle cx="515.5" cy="210.0" r="2.0" fill="#6a5acd"/><circle cx="521.9" cy="211.8" r="2.0" fill="#6a5acd"/><circle cx="528.3" cy="211.0" r="2.0" fill="#6a5acd"/><circle cx="534.7" cy="212.4" r="2.0" fill="#6a5acd"/><circle cx="541.1" cy="215.5" r="2.0" fill="#6a5acd"/><circle cx="547.5" cy="217.3" r="2.0" fill="#6a5acd"/><circle cx="553.9" cy="219.6" r="2.0" fill="#6a5acd"/><circle cx="560.3" cy="221.0" r="2.0" fill="#6a5acd"/><circle cx="566.7" cy="222.0" r="2.0" fill="#6a5acd"/><circle cx="573.1" cy="222.8" r="2.0" fill="#6a5acd"/><circle cx="579.5" cy="223.1" r="2.0" fill="#6a5acd"/><circle cx="585.9" cy="223.8" r="2.0" fill="#6a5acd"/><circle cx="592.3" cy="224.5" r="2.0" fill="#6a5acd"/><circle cx="598.7" cy="224.5" r="2.0" fill="#6a5acd"/><circle cx="605.1" cy="225.8" r="2.0" fill="#6a5acd"/><circle cx="611.5" cy="226.5" r="2.0" fill="#6a5acd"/><circle cx="617.9" cy="227.2" r="2.0" fill="#6a5acd"/><circle cx="624.3" cy="227.9" r="2.0" fill="#6a5acd"/><circle cx="630.7" cy="228.3" r="2.0" fill="#6a5acd"/><circle cx="637.1" cy="227.2" r="2.0" fill="#6a5acd"/><circle cx="643.5" cy="225.5" r="2.0" fill="#6a5acd"/><circle cx="649.9" cy="223.1" r="2.0" fill="#6a5acd"/><circle cx="656.3" cy="222.4" r="2.0" fill="#6a5acd"/><circle cx="662.7" cy="222.8" r="2.0" fill="#6a5acd"/><circle cx="669.1" cy="223.1" r="2.0" fill="#6a5acd"/><circle cx="675.5" cy="225.8" r="2.0" fill="#6a5acd"/><circle cx="681.9" cy="228.3" r="2.0" fill="#6a5acd"/><circle cx="688.3" cy="226.9" r="2.0" fill="#6a5acd"/><circle cx="694.7" cy="226.9" r="2.0" fill="#6a5acd"/><circle cx="701.1" cy="227.9" r="2.0" fill="#6a5acd"/><circle cx="707.5" cy="228.6" r="2.0" fill="#6a5acd"/><circle cx="713.9" cy="227.9" r="2.0" fill="#6a5acd"/><circle cx="720.3" cy="226.5" r="2.0" fill="#6a5acd"/><circle cx="726.7" cy="225.8" r="2.0" fill="#6a5acd"/><circle cx="733.1" cy="225.0" r="2.0" fill="#6a5acd"/><circle cx="739.5" cy="222.4" r="2.0" fill="#6a5acd"/><circle cx="745.9" cy="219.6" r="2.0" fill="#6a5acd"/><circle cx="752.3" cy="218.1" r="2.0" fill="#6a5acd"/><circle cx="758.7" cy="217.3" r="2.0" fill="#6a5acd"/><circle cx="765.1" cy="216.8" r="2.0" fill="#6a5acd"/><circle cx="771.5" cy="216.8" r="2.0" fill="#6a5acd"/><circle cx="777.9" cy="217.3" r="2.0" fill="#6a5acd"/><circle cx="784.3" cy="217.8" r="2.0" fill="#6a5acd"/><circle cx="790.7" cy="217.3" r="2.0" fill="#6a5acd"/><circle cx="797.1" cy="216.5" r="2.0" fill="#6a5acd"/><circle cx="803.5" cy="216.5" r="2.0" fill="#6a5acd"/><circle cx="809.9" cy="216.8" r="2.0" fill="#6a5acd"/><circle cx="816.3" cy="215.8" r="2.0" fill="#6a5acd"/><circle cx="822.7" cy="214.7" r="2.0" fill="#6a5acd"/><circle cx="829.1" cy="213.5" r="2.0" fill="#6a5acd"/><circle cx="835.5" cy="213.2" r="2.0" fill="#6a5acd"/><circle cx="841.9" cy="213.8" r="2.0" fill="#6a5acd"/></g>
<line x1="348.5" y1="177.2" x2="842.0" y2="177.2" stroke="#555" stroke-width="1.5" /><line x1="841.5" y1="177.2" x2="841.5" y2="255.5" stroke="#111" stroke-width="1.5" /><line x1="348.5" y1="255.5" x2="842.2" y2="255.5" stroke="#111" stroke-width="1.8" /><line x1="348.5" y1="177.2" x2="348.5" y2="255.5" stroke="#000" stroke-width="1" stroke-dasharray="2,2"/>
<line x1="361.5" y1="264.0" x2="361.5" y2="341.6" stroke="#000" stroke-width="1" stroke-dasharray="2,2"/><line x1="380.5" y1="264.0" x2="380.5" y2="341.6" stroke="#000" stroke-width="1" stroke-dasharray="2,2"/><line x1="400.5" y1="264.0" x2="400.5" y2="341.6" stroke="#000" stroke-width="1" stroke-dasharray="2,2"/><line x1="419.5" y1="264.0" x2="419.5" y2="341.6" stroke="#000" stroke-width="1" stroke-dasharray="2,2"/><line x1="438.5" y1="264.0" x2="438.5" y2="341.6" stroke="#000" stroke-width="1" stroke-dasharray="2,2"/><line x1="457.5" y1="264.0" x2="457.5" y2="341.6" stroke="#000" stroke-width="1" stroke-dasharray="2,2"/><line x1="476.5" y1="264.0" x2="476.5" y2="341.6" stroke="#000" stroke-width="1" stroke-dasharray="2,2"/><line x1="495.5" y1="264.0" x2="495.5" y2="341.6" stroke="#000" stroke-width="1" stroke-dasharray="2,2"/><line x1="515.5" y1="264.0" x2="515.5" y2="341.6" stroke="#000" stroke-width="1" stroke-dasharray="2,2"/><line x1="534.5" y1="264.0" x2="534.5" y2="341.6" stroke="#000" stroke-width="1" stroke-dasharray="2,2"/><line x1="553.5" y1="264.0" x2="553.5" y2="341.6" stroke="#000" stroke-width="1" stroke-dasharray="2,2"/><line x1="572.5" y1="264.0" x2="572.5" y2="341.6" stroke="#000" stroke-width="1" stroke-dasharray="2,2"/><line x1="591.5" y1="264.0" x2="591.5" y2="341.6" stroke="#000" stroke-width="1" stroke-dasharray="2,2"/><line x1="610.5" y1="264.0" x2="610.5" y2="341.6" stroke="#000" stroke-width="1" stroke-dasharray="2,2"/><line x1="630.5" y1="264.0" x2="630.5" y2="341.6" stroke="#000" stroke-width="1" stroke-dasharray="2,2"/><line x1="649.5" y1="264.0" x2="649.5" y2="341.6" stroke="#000" stroke-width="1" stroke-dasharray="2,2"/><line x1="668.5" y1="264.0" x2="668.5" y2="341.6" stroke="#000" stroke-width="1" stroke-dasharray="2,2"/><line x1="687.5" y1="264.0" x2="687.5" y2="341.6" stroke="#000" stroke-width="1" stroke-dasharray="2,2"/><line x1="706.5" y1="264.0" x2="706.5" y2="341.6" stroke="#000" stroke-width="1" stroke-dasharray="2,2"/><line x1="725.5" y1="264.0" x2="725.5" y2="341.6" stroke="#000" stroke-width="1" stroke-dasharray="2,2"/><line x1="745.5" y1="264.0" x2="745.5" y2="341.6" stroke="#000" stroke-width="1" stroke-dasharray="2,2"/><line x1="764.5" y1="264.0" x2="764.5" y2="341.6" stroke="#000" stroke-width="1" stroke-dasharray="2,2"/><line x1="783.5" y1="264.0" x2="783.5" y2="341.6" stroke="#000" stroke-width="1" stroke-dasharray="2,2"/><line x1="802.5" y1="264.0" x2="802.5" y2="341.6" stroke="#000" stroke-width="1" stroke-dasharray="2,2"/><line x1="821.5" y1="264.0" x2="821.5" y2="341.6" stroke="#000" stroke-width="1" stroke-dasharray="2,2"/><line x1="348.0" y1="266.5" x2="841.5" y2="266.5" stroke="#000" stroke-width="1" stroke-dasharray="2,2"/><line x1="348.0" y1="281.5" x2="841.5" y2="281.5" stroke="#000" stroke-width="1" stroke-dasharray="2,2"/><line x1="348.0" y1="296.5" x2="841.5" y2="296.5" stroke="#000" stroke-width="1" stroke-dasharray="2,2"/><line x1="348.0" y1="311.5" x2="841.5" y2="311.5" stroke="#000" stroke-width="1" stroke-dasharray="2,2"/><line x1="348.0" y1="326.5" x2="841.5" y2="326.5" stroke="#000" stroke-width="1" stroke-dasharray="2,2"/>
<polyline points="348.3,328.1 356.0,325.9 368.4,316.3 386.2,308.1 400.0,304.5 408.2,297.1 424.7,287.5 432.9,290.2 441.2,288.0 449.4,288.8 452.1,290.8 463.1,290.8 482.4,304.5 490.6,298.5 496.1,297.1 503.0,300.7 509.8,299.8 520.8,285.3 527.7,286.1 537.3,288.8 548.3,292.4 559.3,290.2 573.0,287.5 590.0,286.0 606.8,285.8 616.6,287.2 625.0,295.0 633.4,301.5 641.8,310.4 650.2,316.9 661.4,319.7 674.0,310.4 685.2,304.8 696.4,300.6 707.6,293.1 716.0,285.2 727.3,272.6 738.5,269.0 752.5,267.6 763.7,267.8 770.7,271.2 777.7,285.2 786.1,307.6 791.7,316.0 802.9,321.1 814.1,317.4 828.1,303.4 841.5,297.8" fill="none" stroke="#e8561e" stroke-width="2.2" stroke-linejoin="round" stroke-linecap="round" />
<line x1="349.0" y1="340.4" x2="841.5" y2="340.4" stroke="#2a8a2a" stroke-width="0.8" />
<line x1="348.5" y1="263.8" x2="842.0" y2="263.8" stroke="#555" stroke-width="1.5" /><line x1="841.5" y1="263.8" x2="841.5" y2="341.6" stroke="#111" stroke-width="1.5" /><line x1="348.5" y1="341.6" x2="842.2" y2="341.6" stroke="#111" stroke-width="1.8" /><line x1="348.5" y1="263.8" x2="348.5" y2="341.6" stroke="#000" stroke-width="1" stroke-dasharray="2,2"/>
<clipPath id="cP"><polygon points="348.0,428.8 348.3,373.8 356.0,371.6 367.0,368.4 380.7,367.5 400.0,364.2 416.4,363.4 427.4,363.7 441.2,363.7 457.6,361.5 468.6,360.1 476.9,358.7 485.1,360.1 496.1,363.7 509.8,364.2 523.6,364.8 540.0,367.0 553.8,365.6 564.8,365.6 575.8,367.0 590.0,371.6 606.8,370.8 626.4,370.2 646.0,373.0 668.4,373.9 688.0,375.0 707.6,373.0 735.7,373.0 758.0,372.2 774.9,370.8 788.9,368.8 802.9,372.5 814.1,373.0 828.1,372.2 842.0,371.6 842.0,428.8"/></clipPath>
<g clip-path="url(#cP)"><rect x="348" y="340.5" width="4.5" height="100" fill="#ff9a0a"/><rect x="352.5" y="340.5" width="40.5" height="100" fill="#ff720c"/><rect x="393" y="340.5" width="73" height="100" fill="#fa4e10"/><rect x="466" y="340.5" width="42" height="100" fill="#f0400f"/><rect x="508" y="340.5" width="128" height="100" fill="#ff660a"/><rect x="636" y="340.5" width="122" height="100" fill="#ff8c0a"/><rect x="758" y="340.5" width="44" height="100" fill="#ff650a"/><rect x="802" y="340.5" width="20" height="100" fill="#ff7f0a"/><rect x="822" y="340.5" width="20" height="100" fill="#ff680a"/></g>
<line x1="361.5" y1="351.0" x2="361.5" y2="428.8" stroke="#000" stroke-width="1" stroke-dasharray="2,2"/><line x1="380.5" y1="351.0" x2="380.5" y2="428.8" stroke="#000" stroke-width="1" stroke-dasharray="2,2"/><line x1="400.5" y1="351.0" x2="400.5" y2="428.8" stroke="#000" stroke-width="1" stroke-dasharray="2,2"/><line x1="419.5" y1="351.0" x2="419.5" y2="428.8" stroke="#000" stroke-width="1" stroke-dasharray="2,2"/><line x1="438.5" y1="351.0" x2="438.5" y2="428.8" stroke="#000" stroke-width="1" stroke-dasharray="2,2"/><line x1="457.5" y1="351.0" x2="457.5" y2="428.8" stroke="#000" stroke-width="1" stroke-dasharray="2,2"/><line x1="476.5" y1="351.0" x2="476.5" y2="428.8" stroke="#000" stroke-width="1" stroke-dasharray="2,2"/><line x1="495.5" y1="351.0" x2="495.5" y2="428.8" stroke="#000" stroke-width="1" stroke-dasharray="2,2"/><line x1="515.5" y1="351.0" x2="515.5" y2="428.8" stroke="#000" stroke-width="1" stroke-dasharray="2,2"/><line x1="534.5" y1="351.0" x2="534.5" y2="428.8" stroke="#000" stroke-width="1" stroke-dasharray="2,2"/><line x1="553.5" y1="351.0" x2="553.5" y2="428.8" stroke="#000" stroke-width="1" stroke-dasharray="2,2"/><line x1="572.5" y1="351.0" x2="572.5" y2="428.8" stroke="#000" stroke-width="1" stroke-dasharray="2,2"/><line x1="591.5" y1="351.0" x2="591.5" y2="428.8" stroke="#000" stroke-width="1" stroke-dasharray="2,2"/><line x1="610.5" y1="351.0" x2="610.5" y2="428.8" stroke="#000" stroke-width="1" stroke-dasharray="2,2"/><line x1="630.5" y1="351.0" x2="630.5" y2="428.8" stroke="#000" stroke-width="1" stroke-dasharray="2,2"/><line x1="649.5" y1="351.0" x2="649.5" y2="428.8" stroke="#000" stroke-width="1" stroke-dasharray="2,2"/><line x1="668.5" y1="351.0" x2="668.5" y2="428.8" stroke="#000" stroke-width="1" stroke-dasharray="2,2"/><line x1="687.5" y1="351.0" x2="687.5" y2="428.8" stroke="#000" stroke-width="1" stroke-dasharray="2,2"/><line x1="706.5" y1="351.0" x2="706.5" y2="428.8" stroke="#000" stroke-width="1" stroke-dasharray="2,2"/><line x1="725.5" y1="351.0" x2="725.5" y2="428.8" stroke="#000" stroke-width="1" stroke-dasharray="2,2"/><line x1="745.5" y1="351.0" x2="745.5" y2="428.8" stroke="#000" stroke-width="1" stroke-dasharray="2,2"/><line x1="764.5" y1="351.0" x2="764.5" y2="428.8" stroke="#000" stroke-width="1" stroke-dasharray="2,2"/><line x1="783.5" y1="351.0" x2="783.5" y2="428.8" stroke="#000" stroke-width="1" stroke-dasharray="2,2"/><line x1="802.5" y1="351.0" x2="802.5" y2="428.8" stroke="#000" stroke-width="1" stroke-dasharray="2,2"/><line x1="821.5" y1="351.0" x2="821.5" y2="428.8" stroke="#000" stroke-width="1" stroke-dasharray="2,2"/><line x1="348.0" y1="362.5" x2="841.5" y2="362.5" stroke="#000" stroke-width="1" stroke-dasharray="2,2"/><line x1="348.0" y1="383.5" x2="841.5" y2="383.5" stroke="#000" stroke-width="1" stroke-dasharray="2,2"/><line x1="348.0" y1="404.5" x2="841.5" y2="404.5" stroke="#000" stroke-width="1" stroke-dasharray="2,2"/><line x1="348.0" y1="424.5" x2="841.5" y2="424.5" stroke="#000" stroke-width="1" stroke-dasharray="2,2"/>
<polyline points="348.3,373.8 356.0,371.6 367.0,368.4 380.7,367.5 400.0,364.2 416.4,363.4 427.4,363.7 441.2,363.7 457.6,361.5 468.6,360.1 476.9,358.7 485.1,360.1 496.1,363.7 509.8,364.2 523.6,364.8 540.0,367.0 553.8,365.6 564.8,365.6 575.8,367.0 590.0,371.6 606.8,370.8 626.4,370.2 646.0,373.0 668.4,373.9 688.0,375.0 707.6,373.0 735.7,373.0 758.0,372.2 774.9,370.8 788.9,368.8 802.9,372.5 814.1,373.0 828.1,372.2 842.0,371.6" fill="none" stroke="#111" stroke-width="2.2" stroke-linejoin="round" stroke-linecap="round" />
<line x1="348.5" y1="350.5" x2="842.0" y2="350.5" stroke="#555" stroke-width="1.5" /><line x1="841.5" y1="350.5" x2="841.5" y2="428.8" stroke="#111" stroke-width="1.5" /><line x1="348.5" y1="428.8" x2="842.2" y2="428.8" stroke="#111" stroke-width="1.8" /><line x1="348.5" y1="350.5" x2="348.5" y2="428.8" stroke="#000" stroke-width="1" stroke-dasharray="2,2"/>
<clipPath id="cW"><polygon points="348.0,515.3 348.3,487.0 361.5,483.4 375.2,483.6 400.0,487.8 410.9,488.9 427.4,492.4 432.9,493.0 441.2,491.9 454.9,492.4 464.5,491.6 476.9,494.6 496.1,494.6 504.3,492.4 515.3,489.7 526.3,493.0 540.0,491.6 553.8,492.4 564.8,494.1 590.0,493.1 606.8,494.2 629.2,495.9 643.2,495.0 648.8,499.2 665.6,499.2 671.2,498.1 688.0,500.3 707.6,498.7 727.3,498.7 746.9,499.8 769.3,499.2 783.3,501.5 797.3,498.7 808.5,494.2 822.5,490.0 842.0,487.5 842.0,515.3"/></clipPath>
<g clip-path="url(#cW)"><rect x="348" y="437.8" width="13" height="77.49999999999994" fill="#1a80ee"/><rect x="361" y="437.8" width="13" height="77.49999999999994" fill="#0c4a8c"/><rect x="374" y="437.8" width="51" height="77.49999999999994" fill="#1680f0"/><rect x="425" y="437.8" width="83" height="77.49999999999994" fill="#05bff6"/><rect x="508" y="437.8" width="13" height="77.49999999999994" fill="#1a80f0"/><rect x="521" y="437.8" width="12" height="77.49999999999994" fill="#05bff6"/><rect x="533" y="437.8" width="14" height="77.49999999999994" fill="#1a80f0"/><rect x="547" y="437.8" width="101" height="77.49999999999994" fill="#05bff6"/><rect x="648" y="437.8" width="32" height="77.49999999999994" fill="#05bff6"/><rect x="680" y="437.8" width="27" height="77.49999999999994" fill="#00e6ff"/><rect x="707" y="437.8" width="25" height="77.49999999999994" fill="#05bff6"/><rect x="732" y="437.8" width="28" height="77.49999999999994" fill="#00e6ff"/><rect x="760" y="437.8" width="10" height="77.49999999999994" fill="#05bff6"/><rect x="770" y="437.8" width="20" height="77.49999999999994" fill="#00e6ff"/><rect x="790" y="437.8" width="25" height="77.49999999999994" fill="#10aef2"/><rect x="815" y="437.8" width="27" height="77.49999999999994" fill="#1a80f0"/></g>
<g opacity="0.055"><path d="M 462 274 C 395 282, 352 335, 364 395 C 370 425, 386 442, 405 450 L 414 440 C 395 424, 384 398, 388 362 C 395 318, 425 290, 462 274 Z" fill="#000"/><path d="M 524 262 C 534 290, 536 320, 528 345 L 542 345 C 548 320, 546 290, 538 262 Z" fill="#000"/></g>
<line x1="361.5" y1="438.0" x2="361.5" y2="515.3" stroke="#000" stroke-width="1" stroke-dasharray="2,2"/><line x1="380.5" y1="438.0" x2="380.5" y2="515.3" stroke="#000" stroke-width="1" stroke-dasharray="2,2"/><line x1="400.5" y1="438.0" x2="400.5" y2="515.3" stroke="#000" stroke-width="1" stroke-dasharray="2,2"/><line x1="419.5" y1="438.0" x2="419.5" y2="515.3" stroke="#000" stroke-width="1" stroke-dasharray="2,2"/><line x1="438.5" y1="438.0" x2="438.5" y2="515.3" stroke="#000" stroke-width="1" stroke-dasharray="2,2"/><line x1="457.5" y1="438.0" x2="457.5" y2="515.3" stroke="#000" stroke-width="1" stroke-dasharray="2,2"/><line x1="476.5" y1="438.0" x2="476.5" y2="515.3" stroke="#000" stroke-width="1" stroke-dasharray="2,2"/><line x1="495.5" y1="438.0" x2="495.5" y2="515.3" stroke="#000" stroke-width="1" stroke-dasharray="2,2"/><line x1="515.5" y1="438.0" x2="515.5" y2="515.3" stroke="#000" stroke-width="1" stroke-dasharray="2,2"/><line x1="534.5" y1="438.0" x2="534.5" y2="515.3" stroke="#000" stroke-width="1" stroke-dasharray="2,2"/><line x1="553.5" y1="438.0" x2="553.5" y2="515.3" stroke="#000" stroke-width="1" stroke-dasharray="2,2"/><line x1="572.5" y1="438.0" x2="572.5" y2="515.3" stroke="#000" stroke-width="1" stroke-dasharray="2,2"/><line x1="591.5" y1="438.0" x2="591.5" y2="515.3" stroke="#000" stroke-width="1" stroke-dasharray="2,2"/><line x1="610.5" y1="438.0" x2="610.5" y2="515.3" stroke="#000" stroke-width="1" stroke-dasharray="2,2"/><line x1="630.5" y1="438.0" x2="630.5" y2="515.3" stroke="#000" stroke-width="1" stroke-dasharray="2,2"/><line x1="649.5" y1="438.0" x2="649.5" y2="515.3" stroke="#000" stroke-width="1" stroke-dasharray="2,2"/><line x1="668.5" y1="438.0" x2="668.5" y2="515.3" stroke="#000" stroke-width="1" stroke-dasharray="2,2"/><line x1="687.5" y1="438.0" x2="687.5" y2="515.3" stroke="#000" stroke-width="1" stroke-dasharray="2,2"/><line x1="706.5" y1="438.0" x2="706.5" y2="515.3" stroke="#000" stroke-width="1" stroke-dasharray="2,2"/><line x1="725.5" y1="438.0" x2="725.5" y2="515.3" stroke="#000" stroke-width="1" stroke-dasharray="2,2"/><line x1="745.5" y1="438.0" x2="745.5" y2="515.3" stroke="#000" stroke-width="1" stroke-dasharray="2,2"/><line x1="764.5" y1="438.0" x2="764.5" y2="515.3" stroke="#000" stroke-width="1" stroke-dasharray="2,2"/><line x1="783.5" y1="438.0" x2="783.5" y2="515.3" stroke="#000" stroke-width="1" stroke-dasharray="2,2"/><line x1="802.5" y1="438.0" x2="802.5" y2="515.3" stroke="#000" stroke-width="1" stroke-dasharray="2,2"/><line x1="821.5" y1="438.0" x2="821.5" y2="515.3" stroke="#000" stroke-width="1" stroke-dasharray="2,2"/><line x1="348.0" y1="438.5" x2="841.5" y2="438.5" stroke="#000" stroke-width="1" stroke-dasharray="2,2"/><line x1="348.0" y1="454.5" x2="841.5" y2="454.5" stroke="#000" stroke-width="1" stroke-dasharray="2,2"/><line x1="348.0" y1="469.5" x2="841.5" y2="469.5" stroke="#000" stroke-width="1" stroke-dasharray="2,2"/><line x1="348.0" y1="484.5" x2="841.5" y2="484.5" stroke="#000" stroke-width="1" stroke-dasharray="2,2"/><line x1="348.0" y1="500.5" x2="841.5" y2="500.5" stroke="#000" stroke-width="1" stroke-dasharray="2,2"/>
<polyline points="348.3,487.0 361.5,483.4 375.2,483.6 400.0,487.8 410.9,488.9 427.4,492.4 432.9,493.0 441.2,491.9 454.9,492.4 464.5,491.6 476.9,494.6 496.1,494.6 504.3,492.4 515.3,489.7 526.3,493.0 540.0,491.6 553.8,492.4 564.8,494.1 590.0,493.1 606.8,494.2 629.2,495.9 643.2,495.0 648.8,499.2 665.6,499.2 671.2,498.1 688.0,500.3 707.6,498.7 727.3,498.7 746.9,499.8 769.3,499.2 783.3,501.5 797.3,498.7 808.5,494.2 822.5,490.0 842.0,487.5" fill="none" stroke="#10189a" stroke-width="2.2" stroke-linejoin="round" stroke-linecap="round" />
<line x1="349.0" y1="438.5" x2="354.8" y2="438.5" stroke="#ff1010" stroke-width="1.1" /><line x1="355.4" y1="438.5" x2="361.1" y2="438.5" stroke="#ff1010" stroke-width="1.1" /><line x1="361.7" y1="438.5" x2="367.5" y2="438.5" stroke="#ff1010" stroke-width="1.1" /><line x1="368.1" y1="439.5" x2="373.9" y2="439.5" stroke="#ff1010" stroke-width="1.1" /><line x1="374.5" y1="440.5" x2="380.3" y2="440.5" stroke="#ff1010" stroke-width="1.1" /><line x1="380.9" y1="442.5" x2="386.7" y2="442.5" stroke="#ff1010" stroke-width="1.1" /><line x1="387.3" y1="444.5" x2="393.1" y2="444.5" stroke="#ff1010" stroke-width="1.1" /><line x1="393.7" y1="447.5" x2="399.5" y2="447.5" stroke="#ff1010" stroke-width="1.1" /><line x1="400.1" y1="449.5" x2="405.9" y2="449.5" stroke="#ff1010" stroke-width="1.1" /><line x1="406.5" y1="451.5" x2="412.3" y2="451.5" stroke="#ff1010" stroke-width="1.1" /><line x1="412.9" y1="453.5" x2="418.6" y2="453.5" stroke="#ff1010" stroke-width="1.1" /><line x1="419.2" y1="457.5" x2="425.0" y2="457.5" stroke="#ff1010" stroke-width="1.1" /><line x1="425.6" y1="459.5" x2="431.4" y2="459.5" stroke="#ff1010" stroke-width="1.1" /><line x1="432.0" y1="460.5" x2="437.8" y2="460.5" stroke="#ff1010" stroke-width="1.1" /><line x1="438.4" y1="460.5" x2="444.2" y2="460.5" stroke="#ff1010" stroke-width="1.1" /><line x1="444.8" y1="460.5" x2="450.6" y2="460.5" stroke="#ff1010" stroke-width="1.1" /><line x1="451.2" y1="460.5" x2="457.0" y2="460.5" stroke="#ff1010" stroke-width="1.1" /><line x1="457.6" y1="460.5" x2="463.4" y2="460.5" stroke="#ff1010" stroke-width="1.1" /><line x1="464.0" y1="458.5" x2="469.8" y2="458.5" stroke="#ff1010" stroke-width="1.1" /><line x1="470.4" y1="455.5" x2="476.1" y2="455.5" stroke="#ff1010" stroke-width="1.1" /><line x1="476.7" y1="455.5" x2="482.5" y2="455.5" stroke="#ff1010" stroke-width="1.1" /><line x1="483.1" y1="454.5" x2="488.9" y2="454.5" stroke="#ff1010" stroke-width="1.1" /><line x1="489.5" y1="455.5" x2="495.3" y2="455.5" stroke="#ff1010" stroke-width="1.1" /><line x1="495.9" y1="456.5" x2="501.7" y2="456.5" stroke="#ff1010" stroke-width="1.1" /><line x1="502.3" y1="456.5" x2="508.1" y2="456.5" stroke="#ff1010" stroke-width="1.1" /><line x1="508.7" y1="457.5" x2="514.5" y2="457.5" stroke="#ff1010" stroke-width="1.1" /><line x1="515.1" y1="458.5" x2="520.9" y2="458.5" stroke="#ff1010" stroke-width="1.1" /><line x1="521.5" y1="459.5" x2="527.3" y2="459.5" stroke="#ff1010" stroke-width="1.1" /><line x1="527.9" y1="460.5" x2="533.6" y2="460.5" stroke="#ff1010" stroke-width="1.1" /><line x1="534.2" y1="460.5" x2="540.0" y2="460.5" stroke="#ff1010" stroke-width="1.1" /><line x1="540.6" y1="462.5" x2="546.4" y2="462.5" stroke="#ff1010" stroke-width="1.1" /><line x1="547.0" y1="463.5" x2="552.8" y2="463.5" stroke="#ff1010" stroke-width="1.1" /><line x1="553.4" y1="464.5" x2="559.2" y2="464.5" stroke="#ff1010" stroke-width="1.1" /><line x1="559.8" y1="464.5" x2="565.6" y2="464.5" stroke="#ff1010" stroke-width="1.1" /><line x1="566.2" y1="466.5" x2="572.0" y2="466.5" stroke="#ff1010" stroke-width="1.1" /><line x1="572.6" y1="466.5" x2="578.4" y2="466.5" stroke="#ff1010" stroke-width="1.1" /><line x1="579.0" y1="467.5" x2="584.8" y2="467.5" stroke="#ff1010" stroke-width="1.1" /><line x1="585.4" y1="466.5" x2="591.1" y2="466.5" stroke="#ff1010" stroke-width="1.1" /><line x1="591.7" y1="466.5" x2="597.5" y2="466.5" stroke="#ff1010" stroke-width="1.1" /><line x1="598.1" y1="466.5" x2="603.9" y2="466.5" stroke="#ff1010" stroke-width="1.1" /><line x1="604.5" y1="466.5" x2="610.3" y2="466.5" stroke="#ff1010" stroke-width="1.1" /><line x1="610.9" y1="466.5" x2="616.7" y2="466.5" stroke="#ff1010" stroke-width="1.1" /><line x1="617.3" y1="466.5" x2="623.1" y2="466.5" stroke="#ff1010" stroke-width="1.1" /><line x1="623.7" y1="466.5" x2="629.5" y2="466.5" stroke="#ff1010" stroke-width="1.1" /><line x1="630.1" y1="465.5" x2="635.9" y2="465.5" stroke="#ff1010" stroke-width="1.1" /><line x1="636.5" y1="463.5" x2="642.3" y2="463.5" stroke="#ff1010" stroke-width="1.1" /><line x1="642.9" y1="462.5" x2="648.6" y2="462.5" stroke="#ff1010" stroke-width="1.1" /><line x1="649.2" y1="463.5" x2="655.0" y2="463.5" stroke="#ff1010" stroke-width="1.1" /><line x1="655.6" y1="465.5" x2="661.4" y2="465.5" stroke="#ff1010" stroke-width="1.1" /><line x1="662.0" y1="468.5" x2="667.8" y2="468.5" stroke="#ff1010" stroke-width="1.1" /><line x1="668.4" y1="468.5" x2="674.2" y2="468.5" stroke="#ff1010" stroke-width="1.1" /><line x1="674.8" y1="475.5" x2="680.6" y2="475.5" stroke="#ff1010" stroke-width="1.1" /><line x1="681.2" y1="477.5" x2="687.0" y2="477.5" stroke="#ff1010" stroke-width="1.1" /><line x1="687.6" y1="479.5" x2="693.4" y2="479.5" stroke="#ff1010" stroke-width="1.1" /><line x1="694.0" y1="480.5" x2="699.8" y2="480.5" stroke="#ff1010" stroke-width="1.1" /><line x1="700.4" y1="481.5" x2="706.1" y2="481.5" stroke="#ff1010" stroke-width="1.1" /><line x1="706.7" y1="482.5" x2="712.5" y2="482.5" stroke="#ff1010" stroke-width="1.1" /><line x1="713.1" y1="481.5" x2="718.9" y2="481.5" stroke="#ff1010" stroke-width="1.1" /><line x1="719.5" y1="480.5" x2="725.3" y2="480.5" stroke="#ff1010" stroke-width="1.1" /><line x1="725.9" y1="479.5" x2="731.7" y2="479.5" stroke="#ff1010" stroke-width="1.1" /><line x1="732.3" y1="482.5" x2="738.1" y2="482.5" stroke="#ff1010" stroke-width="1.1" /><line x1="738.7" y1="483.5" x2="744.5" y2="483.5" stroke="#ff1010" stroke-width="1.1" /><line x1="745.1" y1="483.5" x2="750.9" y2="483.5" stroke="#ff1010" stroke-width="1.1" /><line x1="751.5" y1="484.5" x2="757.3" y2="484.5" stroke="#ff1010" stroke-width="1.1" /><line x1="757.9" y1="486.5" x2="763.6" y2="486.5" stroke="#ff1010" stroke-width="1.1" /><line x1="764.2" y1="485.5" x2="770.0" y2="485.5" stroke="#ff1010" stroke-width="1.1" /><line x1="770.6" y1="480.5" x2="776.4" y2="480.5" stroke="#ff1010" stroke-width="1.1" /><line x1="777.0" y1="475.5" x2="782.8" y2="475.5" stroke="#ff1010" stroke-width="1.1" /><line x1="783.4" y1="468.5" x2="789.2" y2="468.5" stroke="#ff1010" stroke-width="1.1" /><line x1="789.8" y1="464.5" x2="795.6" y2="464.5" stroke="#ff1010" stroke-width="1.1" /><line x1="796.2" y1="462.5" x2="802.0" y2="462.5" stroke="#ff1010" stroke-width="1.1" /><line x1="802.6" y1="460.5" x2="808.4" y2="460.5" stroke="#ff1010" stroke-width="1.1" /><line x1="809.0" y1="458.5" x2="814.8" y2="458.5" stroke="#ff1010" stroke-width="1.1" /><line x1="815.4" y1="457.5" x2="821.1" y2="457.5" stroke="#ff1010" stroke-width="1.1" /><line x1="821.7" y1="455.5" x2="827.5" y2="455.5" stroke="#ff1010" stroke-width="1.1" /><line x1="828.1" y1="454.5" x2="833.9" y2="454.5" stroke="#ff1010" stroke-width="1.1" /><line x1="834.5" y1="453.5" x2="840.3" y2="453.5" stroke="#ff1010" stroke-width="1.1" />
<line x1="348.5" y1="437.8" x2="842.0" y2="437.8" stroke="#555" stroke-width="1.5" /><line x1="841.5" y1="437.8" x2="841.5" y2="515.3" stroke="#111" stroke-width="1.5" /><line x1="348.5" y1="515.3" x2="842.2" y2="515.3" stroke="#111" stroke-width="1.8" /><line x1="348.5" y1="437.8" x2="348.5" y2="515.3" stroke="#000" stroke-width="1" stroke-dasharray="2,2"/>
<line x1="361.5" y1="521.0" x2="361.5" y2="552.3" stroke="#000" stroke-width="1" stroke-dasharray="2,2"/><line x1="380.5" y1="521.0" x2="380.5" y2="552.3" stroke="#000" stroke-width="1" stroke-dasharray="2,2"/><line x1="400.5" y1="521.0" x2="400.5" y2="552.3" stroke="#000" stroke-width="1" stroke-dasharray="2,2"/><line x1="419.5" y1="521.0" x2="419.5" y2="552.3" stroke="#000" stroke-width="1" stroke-dasharray="2,2"/><line x1="438.5" y1="521.0" x2="438.5" y2="552.3" stroke="#000" stroke-width="1" stroke-dasharray="2,2"/><line x1="457.5" y1="521.0" x2="457.5" y2="552.3" stroke="#000" stroke-width="1" stroke-dasharray="2,2"/><line x1="476.5" y1="521.0" x2="476.5" y2="552.3" stroke="#000" stroke-width="1" stroke-dasharray="2,2"/><line x1="495.5" y1="521.0" x2="495.5" y2="552.3" stroke="#000" stroke-width="1" stroke-dasharray="2,2"/><line x1="515.5" y1="521.0" x2="515.5" y2="552.3" stroke="#000" stroke-width="1" stroke-dasharray="2,2"/><line x1="534.5" y1="521.0" x2="534.5" y2="552.3" stroke="#000" stroke-width="1" stroke-dasharray="2,2"/><line x1="553.5" y1="521.0" x2="553.5" y2="552.3" stroke="#000" stroke-width="1" stroke-dasharray="2,2"/><line x1="572.5" y1="521.0" x2="572.5" y2="552.3" stroke="#000" stroke-width="1" stroke-dasharray="2,2"/><line x1="591.5" y1="521.0" x2="591.5" y2="552.3" stroke="#000" stroke-width="1" stroke-dasharray="2,2"/><line x1="610.5" y1="521.0" x2="610.5" y2="552.3" stroke="#000" stroke-width="1" stroke-dasharray="2,2"/><line x1="630.5" y1="521.0" x2="630.5" y2="552.3" stroke="#000" stroke-width="1" stroke-dasharray="2,2"/><line x1="649.5" y1="521.0" x2="649.5" y2="552.3" stroke="#000" stroke-width="1" stroke-dasharray="2,2"/><line x1="668.5" y1="521.0" x2="668.5" y2="552.3" stroke="#000" stroke-width="1" stroke-dasharray="2,2"/><line x1="687.5" y1="521.0" x2="687.5" y2="552.3" stroke="#000" stroke-width="1" stroke-dasharray="2,2"/><line x1="706.5" y1="521.0" x2="706.5" y2="552.3" stroke="#000" stroke-width="1" stroke-dasharray="2,2"/><line x1="725.5" y1="521.0" x2="725.5" y2="552.3" stroke="#000" stroke-width="1" stroke-dasharray="2,2"/><line x1="745.5" y1="521.0" x2="745.5" y2="552.3" stroke="#000" stroke-width="1" stroke-dasharray="2,2"/><line x1="764.5" y1="521.0" x2="764.5" y2="552.3" stroke="#000" stroke-width="1" stroke-dasharray="2,2"/><line x1="783.5" y1="521.0" x2="783.5" y2="552.3" stroke="#000" stroke-width="1" stroke-dasharray="2,2"/><line x1="802.5" y1="521.0" x2="802.5" y2="552.3" stroke="#000" stroke-width="1" stroke-dasharray="2,2"/><line x1="821.5" y1="521.0" x2="821.5" y2="552.3" stroke="#000" stroke-width="1" stroke-dasharray="2,2"/>
<line x1="343.5" y1="538.9" x2="352.8" y2="535.1" stroke="#10109a" stroke-width="1.3" /><polygon points="343.5,538.9 349.1,539.4 347.2,534.6" fill="#10109a" /><line x1="349.9" y1="538.9" x2="359.2" y2="535.1" stroke="#10109a" stroke-width="1.3" /><polygon points="349.9,538.9 355.5,539.4 353.6,534.6" fill="#10109a" /><line x1="356.3" y1="538.9" x2="365.6" y2="535.1" stroke="#10109a" stroke-width="1.3" /><polygon points="356.3,538.9 361.9,539.4 360.0,534.6" fill="#10109a" /><line x1="362.7" y1="538.9" x2="372.0" y2="535.1" stroke="#10109a" stroke-width="1.3" /><polygon points="362.7,538.9 368.3,539.4 366.4,534.6" fill="#10109a" /><line x1="369.1" y1="538.9" x2="378.4" y2="535.1" stroke="#10109a" stroke-width="1.3" /><polygon points="369.1,538.9 374.7,539.4 372.8,534.6" fill="#10109a" /><line x1="375.5" y1="538.9" x2="384.8" y2="535.1" stroke="#10109a" stroke-width="1.3" /><polygon points="375.5,538.9 381.1,539.4 379.2,534.6" fill="#10109a" /><line x1="381.9" y1="538.9" x2="391.2" y2="535.1" stroke="#10109a" stroke-width="1.3" /><polygon points="381.9,538.9 387.5,539.4 385.6,534.6" fill="#10109a" /><line x1="388.3" y1="538.9" x2="397.6" y2="535.1" stroke="#10109a" stroke-width="1.3" /><polygon points="388.3,538.9 393.9,539.4 392.0,534.6" fill="#10109a" /><line x1="394.7" y1="538.9" x2="404.0" y2="535.1" stroke="#10109a" stroke-width="1.3" /><polygon points="394.7,538.9 400.3,539.4 398.4,534.6" fill="#10109a" /><line x1="401.1" y1="538.9" x2="410.4" y2="535.1" stroke="#10109a" stroke-width="1.3" /><polygon points="401.1,538.9 406.7,539.4 404.8,534.6" fill="#10109a" /><line x1="407.5" y1="538.9" x2="416.8" y2="535.1" stroke="#10109a" stroke-width="1.3" /><polygon points="407.5,538.9 413.1,539.4 411.2,534.6" fill="#10109a" /><line x1="413.9" y1="538.9" x2="423.2" y2="535.1" stroke="#10109a" stroke-width="1.3" /><polygon points="413.9,538.9 419.5,539.4 417.6,534.6" fill="#10109a" /><line x1="420.3" y1="538.9" x2="429.6" y2="535.1" stroke="#10109a" stroke-width="1.3" /><polygon points="420.3,538.9 425.9,539.4 424.0,534.6" fill="#10109a" /><line x1="426.7" y1="538.9" x2="436.0" y2="535.1" stroke="#10109a" stroke-width="1.3" /><polygon points="426.7,538.9 432.3,539.4 430.4,534.6" fill="#10109a" /><line x1="433.1" y1="538.9" x2="442.4" y2="535.1" stroke="#10109a" stroke-width="1.3" /><polygon points="433.1,538.9 438.7,539.4 436.8,534.6" fill="#10109a" /><line x1="439.5" y1="538.9" x2="448.8" y2="535.1" stroke="#10109a" stroke-width="1.3" /><polygon points="439.5,538.9 445.1,539.4 443.2,534.6" fill="#10109a" /><line x1="445.9" y1="538.9" x2="455.2" y2="535.1" stroke="#10109a" stroke-width="1.3" /><polygon points="445.9,538.9 451.5,539.4 449.6,534.6" fill="#10109a" /><line x1="452.3" y1="538.9" x2="461.6" y2="535.1" stroke="#10109a" stroke-width="1.3" /><polygon points="452.3,538.9 457.9,539.4 456.0,534.6" fill="#10109a" /><line x1="458.7" y1="538.9" x2="468.0" y2="535.1" stroke="#10109a" stroke-width="1.3" /><polygon points="458.7,538.9 464.3,539.4 462.4,534.6" fill="#10109a" /><line x1="465.1" y1="538.9" x2="474.4" y2="535.1" stroke="#10109a" stroke-width="1.3" /><polygon points="465.1,538.9 470.7,539.4 468.8,534.6" fill="#10109a" /><line x1="471.5" y1="538.0" x2="481.3" y2="536.0" stroke="#10109a" stroke-width="1.3" /><polygon points="471.5,538.0 476.9,539.5 475.9,534.5" fill="#10109a" /><line x1="477.9" y1="538.0" x2="487.7" y2="536.0" stroke="#10109a" stroke-width="1.3" /><polygon points="477.9,538.0 483.3,539.5 482.3,534.5" fill="#10109a" /><line x1="484.3" y1="538.0" x2="494.1" y2="536.0" stroke="#10109a" stroke-width="1.3" /><polygon points="484.3,538.0 489.7,539.5 488.7,534.5" fill="#10109a" /><line x1="490.7" y1="538.0" x2="500.5" y2="536.0" stroke="#10109a" stroke-width="1.3" /><polygon points="490.7,538.0 496.1,539.5 495.1,534.5" fill="#10109a" /><line x1="497.1" y1="538.0" x2="506.9" y2="536.0" stroke="#10109a" stroke-width="1.3" /><polygon points="497.1,538.0 502.5,539.5 501.5,534.5" fill="#10109a" /><line x1="503.5" y1="538.0" x2="513.3" y2="536.0" stroke="#10109a" stroke-width="1.3" /><polygon points="503.5,538.0 508.9,539.5 507.9,534.5" fill="#10109a" /><line x1="509.9" y1="538.0" x2="519.7" y2="536.0" stroke="#10109a" stroke-width="1.3" /><polygon points="509.9,538.0 515.3,539.5 514.3,534.5" fill="#10109a" /><line x1="516.3" y1="538.0" x2="526.1" y2="536.0" stroke="#10109a" stroke-width="1.3" /><polygon points="516.3,538.0 521.7,539.5 520.7,534.5" fill="#10109a" /><line x1="522.7" y1="537.0" x2="532.7" y2="537.0" stroke="#10109a" stroke-width="1.3" /><polygon points="522.7,537.0 527.7,539.6 527.7,534.4" fill="#10109a" /><line x1="529.1" y1="537.0" x2="539.1" y2="537.0" stroke="#10109a" stroke-width="1.3" /><polygon points="529.1,537.0 534.1,539.6 534.1,534.4" fill="#10109a" /><line x1="535.5" y1="537.0" x2="545.5" y2="537.0" stroke="#10109a" stroke-width="1.3" /><polygon points="535.5,537.0 540.5,539.6 540.5,534.4" fill="#10109a" /><line x1="541.9" y1="537.0" x2="551.9" y2="537.0" stroke="#10109a" stroke-width="1.3" /><polygon points="541.9,537.0 546.9,539.6 546.9,534.4" fill="#10109a" /><line x1="548.3" y1="537.0" x2="558.3" y2="537.0" stroke="#10109a" stroke-width="1.3" /><polygon points="548.3,537.0 553.3,539.6 553.3,534.4" fill="#10109a" /><line x1="554.7" y1="537.0" x2="564.7" y2="537.0" stroke="#10109a" stroke-width="1.3" /><polygon points="554.7,537.0 559.7,539.6 559.7,534.4" fill="#10109a" /><line x1="561.1" y1="537.0" x2="571.1" y2="537.0" stroke="#10109a" stroke-width="1.3" /><polygon points="561.1,537.0 566.1,539.6 566.1,534.4" fill="#10109a" /><line x1="567.5" y1="537.0" x2="577.5" y2="537.0" stroke="#10109a" stroke-width="1.3" /><polygon points="567.5,537.0 572.5,539.6 572.5,534.4" fill="#10109a" /><line x1="573.9" y1="537.0" x2="583.9" y2="537.0" stroke="#10109a" stroke-width="1.3" /><polygon points="573.9,537.0 578.9,539.6 578.9,534.4" fill="#10109a" /><line x1="580.3" y1="537.0" x2="590.3" y2="537.0" stroke="#10109a" stroke-width="1.3" /><polygon points="580.3,537.0 585.3,539.6 585.3,534.4" fill="#10109a" /><line x1="586.7" y1="537.0" x2="596.7" y2="537.0" stroke="#10109a" stroke-width="1.3" /><polygon points="586.7,537.0 591.7,539.6 591.7,534.4" fill="#10109a" /><line x1="593.1" y1="537.0" x2="603.1" y2="537.0" stroke="#10109a" stroke-width="1.3" /><polygon points="593.1,537.0 598.1,539.6 598.1,534.4" fill="#10109a" /><line x1="599.5" y1="537.0" x2="609.5" y2="537.0" stroke="#10109a" stroke-width="1.3" /><polygon points="599.5,537.0 604.5,539.6 604.5,534.4" fill="#10109a" /><line x1="605.9" y1="537.0" x2="615.9" y2="537.0" stroke="#10109a" stroke-width="1.3" /><polygon points="605.9,537.0 610.9,539.6 610.9,534.4" fill="#10109a" /><line x1="612.3" y1="537.0" x2="622.3" y2="537.0" stroke="#10109a" stroke-width="1.3" /><polygon points="612.3,537.0 617.3,539.6 617.3,534.4" fill="#10109a" /><line x1="618.7" y1="537.0" x2="628.7" y2="537.0" stroke="#10109a" stroke-width="1.3" /><polygon points="618.7,537.0 623.7,539.6 623.7,534.4" fill="#10109a" /><line x1="625.1" y1="537.0" x2="635.1" y2="537.0" stroke="#10109a" stroke-width="1.3" /><polygon points="625.1,537.0 630.1,539.6 630.1,534.4" fill="#10109a" /><line x1="631.5" y1="537.0" x2="641.5" y2="537.0" stroke="#10109a" stroke-width="1.3" /><polygon points="631.5,537.0 636.5,539.6 636.5,534.4" fill="#10109a" /><line x1="637.9" y1="537.0" x2="647.9" y2="537.0" stroke="#10109a" stroke-width="1.3" /><polygon points="637.9,537.0 642.9,539.6 642.9,534.4" fill="#10109a" /><line x1="644.3" y1="537.0" x2="654.3" y2="537.0" stroke="#10109a" stroke-width="1.3" /><polygon points="644.3,537.0 649.3,539.6 649.3,534.4" fill="#10109a" /><line x1="650.7" y1="539.1" x2="659.8" y2="534.9" stroke="#10109a" stroke-width="1.3" /><polygon points="650.7,539.1 656.3,539.4 654.1,534.6" fill="#10109a" /><line x1="657.1" y1="539.1" x2="666.2" y2="534.9" stroke="#10109a" stroke-width="1.3" /><polygon points="657.1,539.1 662.7,539.4 660.5,534.6" fill="#10109a" /><line x1="663.5" y1="540.5" x2="670.6" y2="533.5" stroke="#10109a" stroke-width="1.3" /><polygon points="663.5,540.5 668.9,538.8 665.2,535.2" fill="#10109a" /><line x1="669.9" y1="540.5" x2="677.0" y2="533.5" stroke="#10109a" stroke-width="1.3" /><polygon points="669.9,540.5 675.3,538.8 671.6,535.2" fill="#10109a" /><line x1="676.3" y1="540.5" x2="683.4" y2="533.5" stroke="#10109a" stroke-width="1.3" /><polygon points="676.3,540.5 681.7,538.8 678.0,535.2" fill="#10109a" /><line x1="682.7" y1="540.5" x2="689.8" y2="533.5" stroke="#10109a" stroke-width="1.3" /><polygon points="682.7,540.5 688.1,538.8 684.4,535.2" fill="#10109a" /><line x1="689.1" y1="540.5" x2="696.2" y2="533.5" stroke="#10109a" stroke-width="1.3" /><polygon points="689.1,540.5 694.5,538.8 690.8,535.2" fill="#10109a" /><line x1="695.5" y1="540.5" x2="702.6" y2="533.5" stroke="#10109a" stroke-width="1.3" /><polygon points="695.5,540.5 700.9,538.8 697.2,535.2" fill="#10109a" /><line x1="701.9" y1="540.5" x2="709.0" y2="533.5" stroke="#10109a" stroke-width="1.3" /><polygon points="701.9,540.5 707.3,538.8 703.6,535.2" fill="#10109a" /><line x1="708.3" y1="539.3" x2="717.1" y2="534.7" stroke="#10109a" stroke-width="1.3" /><polygon points="708.3,539.3 713.9,539.3 711.5,534.7" fill="#10109a" /><line x1="714.7" y1="539.3" x2="723.5" y2="534.7" stroke="#10109a" stroke-width="1.3" /><polygon points="714.7,539.3 720.3,539.3 717.9,534.7" fill="#10109a" /><line x1="721.1" y1="539.3" x2="729.9" y2="534.7" stroke="#10109a" stroke-width="1.3" /><polygon points="721.1,539.3 726.7,539.3 724.3,534.7" fill="#10109a" /><line x1="727.5" y1="539.3" x2="736.3" y2="534.7" stroke="#10109a" stroke-width="1.3" /><polygon points="727.5,539.3 733.1,539.3 730.7,534.7" fill="#10109a" /><line x1="733.9" y1="540.5" x2="741.0" y2="533.5" stroke="#10109a" stroke-width="1.3" /><polygon points="733.9,540.5 739.3,538.8 735.6,535.2" fill="#10109a" /><line x1="740.3" y1="540.5" x2="747.4" y2="533.5" stroke="#10109a" stroke-width="1.3" /><polygon points="740.3,540.5 745.7,538.8 742.0,535.2" fill="#10109a" /><line x1="746.7" y1="540.5" x2="753.8" y2="533.5" stroke="#10109a" stroke-width="1.3" /><polygon points="746.7,540.5 752.1,538.8 748.4,535.2" fill="#10109a" /><line x1="753.1" y1="540.5" x2="760.2" y2="533.5" stroke="#10109a" stroke-width="1.3" /><polygon points="753.1,540.5 758.5,538.8 754.8,535.2" fill="#10109a" /><line x1="759.5" y1="540.5" x2="766.6" y2="533.5" stroke="#10109a" stroke-width="1.3" /><polygon points="759.5,540.5 764.9,538.8 761.2,535.2" fill="#10109a" /><line x1="765.9" y1="540.5" x2="773.0" y2="533.5" stroke="#10109a" stroke-width="1.3" /><polygon points="765.9,540.5 771.3,538.8 767.6,535.2" fill="#10109a" /><line x1="772.3" y1="540.5" x2="779.4" y2="533.5" stroke="#10109a" stroke-width="1.3" /><polygon points="772.3,540.5 777.7,538.8 774.0,535.2" fill="#10109a" /><line x1="778.7" y1="540.5" x2="785.8" y2="533.5" stroke="#10109a" stroke-width="1.3" /><polygon points="778.7,540.5 784.1,538.8 780.4,535.2" fill="#10109a" /><line x1="785.1" y1="538.7" x2="794.5" y2="535.3" stroke="#10109a" stroke-width="1.3" /><polygon points="785.1,538.7 790.7,539.4 788.9,534.6" fill="#10109a" /><line x1="791.5" y1="537.0" x2="801.5" y2="537.0" stroke="#10109a" stroke-width="1.3" /><polygon points="791.5,537.0 796.5,539.6 796.5,534.4" fill="#10109a" /><line x1="797.9" y1="537.0" x2="807.9" y2="537.0" stroke="#10109a" stroke-width="1.3" /><polygon points="797.9,537.0 802.9,539.6 802.9,534.4" fill="#10109a" /><line x1="804.3" y1="537.0" x2="814.3" y2="537.0" stroke="#10109a" stroke-width="1.3" /><polygon points="804.3,537.0 809.3,539.6 809.3,534.4" fill="#10109a" /><line x1="810.7" y1="537.0" x2="820.7" y2="537.0" stroke="#10109a" stroke-width="1.3" /><polygon points="810.7,537.0 815.7,539.6 815.7,534.4" fill="#10109a" /><line x1="817.1" y1="537.0" x2="827.1" y2="537.0" stroke="#10109a" stroke-width="1.3" /><polygon points="817.1,537.0 822.1,539.6 822.1,534.4" fill="#10109a" /><line x1="823.5" y1="537.0" x2="833.5" y2="537.0" stroke="#10109a" stroke-width="1.3" /><polygon points="823.5,537.0 828.5,539.6 828.5,534.4" fill="#10109a" /><line x1="829.9" y1="537.0" x2="839.9" y2="537.0" stroke="#10109a" stroke-width="1.3" /><polygon points="829.9,537.0 834.9,539.6 834.9,534.4" fill="#10109a" /><line x1="836.3" y1="537.0" x2="846.3" y2="537.0" stroke="#10109a" stroke-width="1.3" /><polygon points="836.3,537.0 841.3,539.6 841.3,534.4" fill="#10109a" />
<line x1="842.0" y1="537.0" x2="852.0" y2="537.0" stroke="#1a1a9a" stroke-width="1.1" />
<line x1="348.5" y1="521.0" x2="842.0" y2="521.0" stroke="#555" stroke-width="1.5" /><line x1="841.5" y1="521.0" x2="841.5" y2="552.3" stroke="#111" stroke-width="1.5" /><line x1="348.5" y1="552.3" x2="842.2" y2="552.3" stroke="#111" stroke-width="1.8" /><line x1="348.5" y1="521.0" x2="348.5" y2="552.3" stroke="#000" stroke-width="1" stroke-dasharray="2,2"/>
<rect x="349.0" y="558.2" width="492.5" height="78.1" fill="#87d3fa"/><rect x="363.1" y="558.2" width="96.5" height="78.1" fill="#7ebfea"/><rect x="516.5" y="558.2" width="96.5" height="78.1" fill="#7ebfea"/><rect x="669.8" y="558.2" width="96.5" height="78.1" fill="#7ebfea"/><rect x="823.1" y="558.2" width="18.4" height="78.1" fill="#7ebfea"/>
<line x1="361.5" y1="559.0" x2="361.5" y2="636.3" stroke="#000" stroke-width="1" stroke-dasharray="2,2"/><line x1="380.5" y1="559.0" x2="380.5" y2="636.3" stroke="#000" stroke-width="1" stroke-dasharray="2,2"/><line x1="400.5" y1="559.0" x2="400.5" y2="636.3" stroke="#000" stroke-width="1" stroke-dasharray="2,2"/><line x1="419.5" y1="559.0" x2="419.5" y2="636.3" stroke="#000" stroke-width="1" stroke-dasharray="2,2"/><line x1="438.5" y1="559.0" x2="438.5" y2="636.3" stroke="#000" stroke-width="1" stroke-dasharray="2,2"/><line x1="457.5" y1="559.0" x2="457.5" y2="636.3" stroke="#000" stroke-width="1" stroke-dasharray="2,2"/><line x1="476.5" y1="559.0" x2="476.5" y2="636.3" stroke="#000" stroke-width="1" stroke-dasharray="2,2"/><line x1="495.5" y1="559.0" x2="495.5" y2="636.3" stroke="#000" stroke-width="1" stroke-dasharray="2,2"/><line x1="515.5" y1="559.0" x2="515.5" y2="636.3" stroke="#000" stroke-width="1" stroke-dasharray="2,2"/><line x1="534.5" y1="559.0" x2="534.5" y2="636.3" stroke="#000" stroke-width="1" stroke-dasharray="2,2"/><line x1="553.5" y1="559.0" x2="553.5" y2="636.3" stroke="#000" stroke-width="1" stroke-dasharray="2,2"/><line x1="572.5" y1="559.0" x2="572.5" y2="636.3" stroke="#000" stroke-width="1" stroke-dasharray="2,2"/><line x1="591.5" y1="559.0" x2="591.5" y2="636.3" stroke="#000" stroke-width="1" stroke-dasharray="2,2"/><line x1="610.5" y1="559.0" x2="610.5" y2="636.3" stroke="#000" stroke-width="1" stroke-dasharray="2,2"/><line x1="630.5" y1="559.0" x2="630.5" y2="636.3" stroke="#000" stroke-width="1" stroke-dasharray="2,2"/><line x1="649.5" y1="559.0" x2="649.5" y2="636.3" stroke="#000" stroke-width="1" stroke-dasharray="2,2"/><line x1="668.5" y1="559.0" x2="668.5" y2="636.3" stroke="#000" stroke-width="1" stroke-dasharray="2,2"/><line x1="687.5" y1="559.0" x2="687.5" y2="636.3" stroke="#000" stroke-width="1" stroke-dasharray="2,2"/><line x1="706.5" y1="559.0" x2="706.5" y2="636.3" stroke="#000" stroke-width="1" stroke-dasharray="2,2"/><line x1="725.5" y1="559.0" x2="725.5" y2="636.3" stroke="#000" stroke-width="1" stroke-dasharray="2,2"/><line x1="745.5" y1="559.0" x2="745.5" y2="636.3" stroke="#000" stroke-width="1" stroke-dasharray="2,2"/><line x1="764.5" y1="559.0" x2="764.5" y2="636.3" stroke="#000" stroke-width="1" stroke-dasharray="2,2"/><line x1="783.5" y1="559.0" x2="783.5" y2="636.3" stroke="#000" stroke-width="1" stroke-dasharray="2,2"/><line x1="802.5" y1="559.0" x2="802.5" y2="636.3" stroke="#000" stroke-width="1" stroke-dasharray="2,2"/><line x1="821.5" y1="559.0" x2="821.5" y2="636.3" stroke="#000" stroke-width="1" stroke-dasharray="2,2"/><line x1="348.0" y1="558.5" x2="841.5" y2="558.5" stroke="#000" stroke-width="1" stroke-dasharray="2,2"/><line x1="348.0" y1="577.5" x2="841.5" y2="577.5" stroke="#000" stroke-width="1" stroke-dasharray="2,2"/><line x1="348.0" y1="597.5" x2="841.5" y2="597.5" stroke="#000" stroke-width="1" stroke-dasharray="2,2"/><line x1="348.0" y1="616.5" x2="841.5" y2="616.5" stroke="#000" stroke-width="1" stroke-dasharray="2,2"/>
<circle cx="349.1" cy="577.0" r="2.6" fill="#ffffff"/><circle cx="355.5" cy="577.0" r="2.6" fill="#ffffff"/><circle cx="361.9" cy="577.0" r="2.6" fill="#ffffff"/><circle cx="368.3" cy="571.2" r="2.6" fill="#a82020"/><circle cx="368.3" cy="577.0" r="2.6" fill="#ffffff"/><circle cx="374.7" cy="571.2" r="2.6" fill="#a82020"/><circle cx="374.7" cy="577.0" r="2.6" fill="#ffffff"/><circle cx="381.1" cy="571.2" r="2.6" fill="#a82020"/><circle cx="381.1" cy="577.0" r="2.6" fill="#ffffff"/><circle cx="387.5" cy="571.2" r="2.6" fill="#a82020"/><circle cx="387.5" cy="577.0" r="2.6" fill="#ffffff"/><circle cx="393.9" cy="571.2" r="2.6" fill="#a82020"/><circle cx="393.9" cy="577.0" r="2.6" fill="#ffffff"/><circle cx="400.3" cy="569.8" r="2.6" fill="#a82020"/><circle cx="400.3" cy="577.0" r="2.6" fill="#ffffff"/><circle cx="406.7" cy="569.8" r="2.6" fill="#a82020"/><circle cx="406.7" cy="577.0" r="2.6" fill="#ffffff"/><circle cx="413.1" cy="569.8" r="2.6" fill="#a82020"/><circle cx="413.1" cy="577.0" r="2.6" fill="#ffffff"/><circle cx="419.5" cy="569.8" r="2.6" fill="#a82020"/><circle cx="419.5" cy="577.0" r="2.6" fill="#ffffff"/><circle cx="425.9" cy="571.2" r="2.6" fill="#a82020"/><circle cx="425.9" cy="577.0" r="2.6" fill="#ffffff"/><circle cx="432.3" cy="571.2" r="2.6" fill="#a82020"/><circle cx="432.3" cy="577.0" r="2.6" fill="#ffffff"/><circle cx="445.1" cy="570.8" r="2.6" fill="#ffffff"/><circle cx="451.5" cy="570.8" r="2.6" fill="#ffffff"/><circle cx="457.9" cy="570.8" r="2.6" fill="#ffffff"/><circle cx="464.3" cy="570.8" r="2.6" fill="#ffffff"/><circle cx="470.7" cy="570.8" r="2.6" fill="#ffffff"/><circle cx="477.1" cy="570.8" r="2.6" fill="#ffffff"/><circle cx="541.1" cy="571.3" r="2.6" fill="#ffffff"/><circle cx="547.5" cy="571.3" r="2.6" fill="#ffffff"/><circle cx="553.9" cy="571.3" r="2.6" fill="#ffffff"/><circle cx="553.9" cy="570.5" r="2.6" fill="#a82020"/><circle cx="560.3" cy="572.1" r="2.6" fill="#ffffff"/><circle cx="560.3" cy="570.5" r="2.6" fill="#a82020"/><circle cx="566.7" cy="573.2" r="2.6" fill="#ffffff"/><circle cx="566.7" cy="570.5" r="2.6" fill="#a82020"/><circle cx="573.1" cy="574.2" r="2.6" fill="#ffffff"/><circle cx="573.1" cy="570.5" r="2.6" fill="#a82020"/><circle cx="579.5" cy="578.7" r="2.6" fill="#ffffff"/><circle cx="579.5" cy="570.5" r="2.6" fill="#a82020"/><circle cx="585.9" cy="580.3" r="2.6" fill="#ffffff"/><circle cx="585.9" cy="570.5" r="2.6" fill="#a82020"/><circle cx="592.3" cy="572.2" r="2.6" fill="#a82020"/><circle cx="592.3" cy="581.5" r="2.6" fill="#ffffff"/><circle cx="598.7" cy="572.2" r="2.6" fill="#a82020"/><circle cx="598.7" cy="581.5" r="2.6" fill="#ffffff"/><circle cx="605.1" cy="572.2" r="2.6" fill="#a82020"/><circle cx="605.1" cy="581.5" r="2.6" fill="#ffffff"/><circle cx="611.5" cy="572.2" r="2.6" fill="#a82020"/><circle cx="611.5" cy="581.5" r="2.6" fill="#ffffff"/><circle cx="617.9" cy="572.2" r="2.6" fill="#a82020"/><circle cx="617.9" cy="581.5" r="2.6" fill="#ffffff"/><circle cx="624.3" cy="572.2" r="2.6" fill="#a82020"/><circle cx="624.3" cy="581.5" r="2.6" fill="#ffffff"/><circle cx="630.7" cy="572.2" r="2.6" fill="#a82020"/><circle cx="630.7" cy="581.5" r="2.6" fill="#ffffff"/><circle cx="637.1" cy="572.2" r="2.6" fill="#a82020"/><circle cx="637.1" cy="581.5" r="2.6" fill="#ffffff"/><circle cx="643.5" cy="572.2" r="2.6" fill="#a82020"/><circle cx="643.5" cy="581.5" r="2.6" fill="#ffffff"/><circle cx="649.9" cy="572.2" r="2.6" fill="#a82020"/><circle cx="649.9" cy="581.5" r="2.6" fill="#ffffff"/><circle cx="656.3" cy="572.2" r="2.6" fill="#a82020"/><circle cx="656.3" cy="581.5" r="2.6" fill="#ffffff"/><circle cx="662.7" cy="572.2" r="2.6" fill="#a82020"/><circle cx="662.7" cy="581.5" r="2.6" fill="#ffffff"/><circle cx="669.1" cy="572.2" r="2.6" fill="#a82020"/><circle cx="669.1" cy="581.5" r="2.6" fill="#ffffff"/><circle cx="675.5" cy="581.5" r="2.6" fill="#ffffff"/><circle cx="681.9" cy="581.5" r="2.6" fill="#ffffff"/><circle cx="733.1" cy="629.9" r="2.6" fill="#111111"/><circle cx="739.5" cy="629.9" r="2.6" fill="#111111"/><circle cx="745.9" cy="629.9" r="2.6" fill="#111111"/><circle cx="752.3" cy="629.9" r="2.6" fill="#111111"/><circle cx="758.7" cy="629.9" r="2.6" fill="#111111"/><circle cx="765.1" cy="629.9" r="2.6" fill="#111111"/><circle cx="457.0" cy="569.5" r="2.6" fill="#a82020"/><circle cx="502.1" cy="619.3" r="2.6" fill="#ffffff"/><circle cx="694.0" cy="575.0" r="2.6" fill="#ffffff"/><circle cx="700.5" cy="575.0" r="2.6" fill="#ffffff"/><circle cx="719.4" cy="578.6" r="2.6" fill="#ffffff"/><circle cx="726.5" cy="629.9" r="2.6" fill="#ffffff"/><circle cx="771.0" cy="629.9" r="2.6" fill="#555555"/>
<polyline points="348.3,570.7 367.0,572.6 400.0,573.4 435.7,573.4 457.6,571.8 476.9,573.4 498.8,574.5 515.3,576.2 531.8,577.3 542.8,576.2 564.8,575.9 590.0,576.4 668.4,576.6 688.0,578.6 710.4,580.6 718.9,587.0 723.1,608.0 727.3,626.2 732.9,631.8 746.9,633.2 760.9,632.4 770.7,627.6 774.9,602.4 777.7,585.6 786.1,577.8 800.0,575.8 814.1,575.8 842.0,578.6" fill="none" stroke="#ff9a00" stroke-width="2.2" stroke-linejoin="round" stroke-linecap="round" />
<line x1="348.5" y1="558.2" x2="842.0" y2="558.2" stroke="#555" stroke-width="1.5" /><line x1="841.5" y1="558.2" x2="841.5" y2="636.3" stroke="#111" stroke-width="1.5" /><line x1="348.5" y1="636.3" x2="842.2" y2="636.3" stroke="#111" stroke-width="1.8" /><line x1="348.5" y1="558.2" x2="348.5" y2="636.3" stroke="#000" stroke-width="1" stroke-dasharray="2,2"/>
<rect x="349.0" y="645.5" width="492.5" height="15.5" fill="#87d3fa"/><rect x="363.1" y="645.5" width="96.5" height="15.5" fill="#7ebfea"/><rect x="516.5" y="645.5" width="96.5" height="15.5" fill="#7ebfea"/><rect x="669.8" y="645.5" width="96.5" height="15.5" fill="#7ebfea"/><rect x="823.1" y="645.5" width="18.4" height="15.5" fill="#7ebfea"/>
<line x1="361.5" y1="646.0" x2="361.5" y2="661.0" stroke="#000" stroke-width="1" stroke-dasharray="2,2"/><line x1="380.5" y1="646.0" x2="380.5" y2="661.0" stroke="#000" stroke-width="1" stroke-dasharray="2,2"/><line x1="400.5" y1="646.0" x2="400.5" y2="661.0" stroke="#000" stroke-width="1" stroke-dasharray="2,2"/><line x1="419.5" y1="646.0" x2="419.5" y2="661.0" stroke="#000" stroke-width="1" stroke-dasharray="2,2"/><line x1="438.5" y1="646.0" x2="438.5" y2="661.0" stroke="#000" stroke-width="1" stroke-dasharray="2,2"/><line x1="457.5" y1="646.0" x2="457.5" y2="661.0" stroke="#000" stroke-width="1" stroke-dasharray="2,2"/><line x1="476.5" y1="646.0" x2="476.5" y2="661.0" stroke="#000" stroke-width="1" stroke-dasharray="2,2"/><line x1="495.5" y1="646.0" x2="495.5" y2="661.0" stroke="#000" stroke-width="1" stroke-dasharray="2,2"/><line x1="515.5" y1="646.0" x2="515.5" y2="661.0" stroke="#000" stroke-width="1" stroke-dasharray="2,2"/><line x1="534.5" y1="646.0" x2="534.5" y2="661.0" stroke="#000" stroke-width="1" stroke-dasharray="2,2"/><line x1="553.5" y1="646.0" x2="553.5" y2="661.0" stroke="#000" stroke-width="1" stroke-dasharray="2,2"/><line x1="572.5" y1="646.0" x2="572.5" y2="661.0" stroke="#000" stroke-width="1" stroke-dasharray="2,2"/><line x1="591.5" y1="646.0" x2="591.5" y2="661.0" stroke="#000" stroke-width="1" stroke-dasharray="2,2"/><line x1="610.5" y1="646.0" x2="610.5" y2="661.0" stroke="#000" stroke-width="1" stroke-dasharray="2,2"/><line x1="630.5" y1="646.0" x2="630.5" y2="661.0" stroke="#000" stroke-width="1" stroke-dasharray="2,2"/><line x1="649.5" y1="646.0" x2="649.5" y2="661.0" stroke="#000" stroke-width="1" stroke-dasharray="2,2"/><line x1="668.5" y1="646.0" x2="668.5" y2="661.0" stroke="#000" stroke-width="1" stroke-dasharray="2,2"/><line x1="687.5" y1="646.0" x2="687.5" y2="661.0" stroke="#000" stroke-width="1" stroke-dasharray="2,2"/><line x1="706.5" y1="646.0" x2="706.5" y2="661.0" stroke="#000" stroke-width="1" stroke-dasharray="2,2"/><line x1="725.5" y1="646.0" x2="725.5" y2="661.0" stroke="#000" stroke-width="1" stroke-dasharray="2,2"/><line x1="745.5" y1="646.0" x2="745.5" y2="661.0" stroke="#000" stroke-width="1" stroke-dasharray="2,2"/><line x1="764.5" y1="646.0" x2="764.5" y2="661.0" stroke="#000" stroke-width="1" stroke-dasharray="2,2"/><line x1="783.5" y1="646.0" x2="783.5" y2="661.0" stroke="#000" stroke-width="1" stroke-dasharray="2,2"/><line x1="802.5" y1="646.0" x2="802.5" y2="661.0" stroke="#000" stroke-width="1" stroke-dasharray="2,2"/><line x1="821.5" y1="646.0" x2="821.5" y2="661.0" stroke="#000" stroke-width="1" stroke-dasharray="2,2"/>
<rect x="730.5" y="648" width="2.4" height="13" fill="#ffb400"/><rect x="736.2" y="646.5" width="2.8" height="14.5" fill="#ffb400"/><rect x="744.2" y="647" width="1.6" height="14" fill="#ffb400"/><rect x="749.8" y="646.5" width="2.8" height="14.5" fill="#ffb400"/><rect x="756.5" y="648" width="2.8" height="13" fill="#ffb400"/><rect x="763.4" y="647" width="1.6" height="14" fill="#ffb400"/>
<line x1="348.5" y1="645.5" x2="842.0" y2="645.5" stroke="#222" stroke-width="1.6" /><line x1="841.5" y1="645.5" x2="841.5" y2="661.0" stroke="#111" stroke-width="1.5" />
<text x="289.9" y="133.0" font-size="12" fill="#0c0c9c" text-anchor="start" textLength="146.6" lengthAdjust="spacing">wschód słońca: 07:19 CET</text>
<text x="292.0" y="145.5" font-size="12" fill="#0c0c9c" text-anchor="start" textLength="143" lengthAdjust="spacing">zachód słońca: 16:13 CET</text>
<text x="531.4" y="133.0" font-size="12" fill="#0c0c9c" text-anchor="start" textLength="128.3" lengthAdjust="spacing">21°31'16"E, 53°36'13"N</text>
<text x="554.3" y="145.5" font-size="12" fill="#0c0c9c" text-anchor="start" textLength="81.7" lengthAdjust="spacing">(x=258, y=366)</text>
<text x="738.8" y="133.0" font-size="12" fill="#0c0c9c" text-anchor="start" textLength="158.7" lengthAdjust="spacing">wysokość (min, środek, max)</text>
<text x="770.1" y="145.5" font-size="12" fill="#0c0c9c" text-anchor="start" textLength="96" lengthAdjust="spacing">125 - 147 - 161 m</text>
<text x="467.0" y="162.0" font-size="12" fill="#000" text-anchor="start" textLength="56.3" lengthAdjust="spacing">nie, 01.02</text>
<text x="619.3" y="162.0" font-size="12" fill="#000" text-anchor="start" textLength="60" lengthAdjust="spacing">pon, 02.02</text>
<text x="772.2" y="162.0" font-size="12" fill="#000" text-anchor="start" textLength="60.5" lengthAdjust="spacing">wto, 03.02</text>
<text x="306.4" y="174.5" font-size="12" fill="#000" text-anchor="start" >CET</text>
<text x="859.5" y="174.5" font-size="12" fill="#000" text-anchor="start" >CET</text>
<text x="361.7" y="174.5" font-size="12" fill="#000" text-anchor="middle" >16</text>
<text x="400.1" y="174.5" font-size="12" fill="#000" text-anchor="middle" >22</text>
<text x="438.4" y="174.5" font-size="12" fill="#000" text-anchor="middle" >04</text>
<text x="476.7" y="174.5" font-size="12" fill="#000" text-anchor="middle" >10</text>
<text x="515.1" y="174.5" font-size="12" fill="#000" text-anchor="middle" >16</text>
<text x="553.4" y="174.5" font-size="12" fill="#000" text-anchor="middle" >22</text>
<text x="591.7" y="174.5" font-size="12" fill="#000" text-anchor="middle" >04</text>
<text x="630.1" y="174.5" font-size="12" fill="#000" text-anchor="middle" >10</text>
<text x="668.4" y="174.5" font-size="12" fill="#000" text-anchor="middle" >16</text>
<text x="706.7" y="174.5" font-size="12" fill="#000" text-anchor="middle" >22</text>
<text x="745.1" y="174.5" font-size="12" fill="#000" text-anchor="middle" >04</text>
<text x="783.4" y="174.5" font-size="12" fill="#000" text-anchor="middle" >10</text>
<text x="821.7" y="174.5" font-size="12" fill="#000" text-anchor="middle" >16</text>
<text x="345.0" y="192.4" font-size="11" fill="#000" text-anchor="end" >-10</text>
<text x="845.0" y="192.4" font-size="11" fill="#000" text-anchor="start" >-10</text>
<text x="345.0" y="213.6" font-size="11" fill="#000" text-anchor="end" >-15</text>
<text x="845.0" y="213.6" font-size="11" fill="#000" text-anchor="start" >-15</text>
<text x="345.0" y="234.0" font-size="11" fill="#000" text-anchor="end" >-20</text>
<text x="845.0" y="234.0" font-size="11" fill="#000" text-anchor="start" >-20</text>
<text x="345.0" y="254.5" font-size="11" fill="#000" text-anchor="end" >-25</text>
<text x="845.0" y="254.5" font-size="11" fill="#000" text-anchor="start" >-25</text>
<text x="345.0" y="270.3" font-size="11" fill="#000" text-anchor="end" >5</text>
<text x="845.0" y="270.3" font-size="11" fill="#e8561e" text-anchor="start" >95</text>
<text x="345.0" y="285.3" font-size="11" fill="#000" text-anchor="end" >4</text>
<text x="845.0" y="285.3" font-size="11" fill="#e8561e" text-anchor="start" >85</text>
<text x="345.0" y="300.3" font-size="11" fill="#000" text-anchor="end" >3</text>
<text x="845.0" y="300.3" font-size="11" fill="#e8561e" text-anchor="start" >75</text>
<text x="345.0" y="315.3" font-size="11" fill="#000" text-anchor="end" >2</text>
<text x="845.0" y="315.3" font-size="11" fill="#e8561e" text-anchor="start" >65</text>
<text x="345.0" y="330.3" font-size="11" fill="#000" text-anchor="end" >1</text>
<text x="845.0" y="330.3" font-size="11" fill="#e8561e" text-anchor="start" >55</text>
<text x="345.0" y="345.3" font-size="11" fill="#000" text-anchor="end" >0</text>
<text x="845.0" y="345.3" font-size="11" fill="#e8561e" text-anchor="start" >45</text>
<text x="345.0" y="367.0" font-size="11" fill="#000" text-anchor="end" >1025</text>
<text x="845.0" y="367.0" font-size="11" fill="#000" text-anchor="start" >769</text>
<text x="345.0" y="387.3" font-size="11" fill="#000" text-anchor="end" >1020</text>
<text x="845.0" y="387.3" font-size="11" fill="#000" text-anchor="start" >765</text>
<text x="345.0" y="407.8" font-size="11" fill="#000" text-anchor="end" >1015</text>
<text x="845.0" y="407.8" font-size="11" fill="#000" text-anchor="start" >761</text>
<text x="345.0" y="428.2" font-size="11" fill="#000" text-anchor="end" >1010</text>
<text x="845.0" y="428.2" font-size="11" fill="#000" text-anchor="start" >758</text>
<text x="345.0" y="442.6" font-size="11" fill="#000" text-anchor="end" >10</text>
<text x="845.0" y="442.6" font-size="11" fill="#000" text-anchor="start" >36</text>
<text x="345.0" y="457.8" font-size="11" fill="#000" text-anchor="end" >8</text>
<text x="845.0" y="457.8" font-size="11" fill="#000" text-anchor="start" >29</text>
<text x="345.0" y="473.0" font-size="11" fill="#000" text-anchor="end" >6</text>
<text x="845.0" y="473.0" font-size="11" fill="#000" text-anchor="start" >22</text>
<text x="345.0" y="488.2" font-size="11" fill="#000" text-anchor="end" >4</text>
<text x="845.0" y="488.2" font-size="11" fill="#000" text-anchor="start" >14</text>
<text x="345.0" y="503.4" font-size="11" fill="#000" text-anchor="end" >2</text>
<text x="845.0" y="503.4" font-size="11" fill="#000" text-anchor="start" >7</text>
<text x="345.0" y="518.6" font-size="11" fill="#000" text-anchor="end" >0</text>
<text x="845.0" y="518.6" font-size="11" fill="#000" text-anchor="start" >0</text>
<text x="345.0" y="562.8" font-size="11" fill="#000" text-anchor="end" >15.0</text>
<text x="845.0" y="562.8" font-size="11" fill="#ff8c00" text-anchor="start" >100</text>
<text x="345.0" y="581.3" font-size="11" fill="#000" text-anchor="end" >7.0</text>
<text x="845.0" y="581.3" font-size="11" fill="#ff8c00" text-anchor="start" >20</text>
<text x="345.0" y="601.3" font-size="11" fill="#000" text-anchor="end" >2.0</text>
<text x="845.0" y="601.3" font-size="11" fill="#ff8c00" text-anchor="start" >5</text>
<text x="345.0" y="620.6" font-size="11" fill="#000" text-anchor="end" >0.5</text>
<text x="845.0" y="620.6" font-size="11" fill="#ff8c00" text-anchor="start" >1</text>
<text x="345.0" y="639.8" font-size="11" fill="#000" text-anchor="end" >0.0</text>
<text x="845.0" y="639.8" font-size="11" fill="#ff8c00" text-anchor="start" >0</text>
<text x="345.0" y="650.0" font-size="11" fill="#000" text-anchor="end" >8</text>
<text x="845.0" y="650.0" font-size="11" fill="#ff8c00" text-anchor="start" >1</text>
<text transform="translate(292.5,217.0) rotate(-90)" font-size="12" fill="#0c0c9c" text-anchor="middle" >temperatura</text>
<text transform="translate(305.0,215.0) rotate(-90)" font-size="12" fill="#0c0c9c" text-anchor="middle" >(°C)</text>
<text transform="translate(292.5,300.5) rotate(-90)" font-size="12" fill="#0c0c9c" text-anchor="middle" >opad</text>
<text transform="translate(305.0,306.0) rotate(-90)" font-size="12" fill="#0c0c9c" text-anchor="middle" >(mm/h, kg/m²/h)</text>
<text transform="translate(292.5,389.0) rotate(-90)" font-size="12" fill="#0c0c9c" text-anchor="middle" >ciśnienie</text>
<text transform="translate(305.0,389.0) rotate(-90)" font-size="12" fill="#0c0c9c" text-anchor="middle" >(hPa)</text>
<text transform="translate(292.5,481.0) rotate(-90)" font-size="12" fill="#0c0c9c" text-anchor="middle" >wiatr</text>
<text transform="translate(305.0,480.0) rotate(-90)" font-size="12" fill="#0c0c9c" text-anchor="middle" >(m/s)</text>
<text transform="translate(292.5,594.0) rotate(-90)" font-size="11.5" fill="#0c0c9c" text-anchor="middle" >pion. rozciągł. chm.</text>
<text transform="translate(305.0,594.6) rotate(-90)" font-size="12" fill="#0c0c9c" text-anchor="middle" >(km)</text>
<text transform="translate(292.5,655.0) rotate(-90)" font-size="12" fill="#0c0c9c" text-anchor="middle" >e</text>
<text transform="translate(906.0,216.0) rotate(-90)" font-size="12" fill="#0c0c9c" text-anchor="middle" >temperatura</text>
<text transform="translate(892.0,212.0) rotate(-90)" font-size="12" fill="#0c0c9c" text-anchor="middle" >(°C)</text>
<text transform="translate(906.0,305.0) rotate(-90)" font-size="12" fill="#0c0c9c" text-anchor="middle" >wilgotność wzgl.</text>
<text transform="translate(892.0,306.0) rotate(-90)" font-size="12" fill="#0c0c9c" text-anchor="middle" >(%)</text>
<text transform="translate(906.0,392.0) rotate(-90)" font-size="12" fill="#0c0c9c" text-anchor="middle" >ciśnienie</text>
<text transform="translate(892.0,392.0) rotate(-90)" font-size="12" fill="#0c0c9c" text-anchor="middle" >(mm Hg)</text>
<text transform="translate(906.0,478.0) rotate(-90)" font-size="12" fill="#0c0c9c" text-anchor="middle" >wiatr</text>
<text transform="translate(892.0,478.0) rotate(-90)" font-size="12" fill="#0c0c9c" text-anchor="middle" >(km/h)</text>
<text transform="translate(906.0,595.0) rotate(-90)" font-size="12" fill="#0c0c9c" text-anchor="middle" >widzialność</text>
<text transform="translate(891.5,594.0) rotate(-90)" font-size="12" fill="#0c0c9c" text-anchor="middle" >(km)</text>
<text x="298.6" y="531.1" font-size="11.5" fill="#0c0c9c" text-anchor="middle" >N</text><text x="289.8" y="539.8" font-size="11.5" fill="#0c0c9c" text-anchor="middle" >W</text><text x="305.1" y="539.8" font-size="11.5" fill="#0c0c9c" text-anchor="middle" >E</text><text x="298.2" y="548.0" font-size="11.5" fill="#0c0c9c" text-anchor="middle" >S</text>
<text x="897.6" y="531.1" font-size="11.5" fill="#0c0c9c" text-anchor="middle" >N</text><text x="888.8" y="539.8" font-size="11.5" fill="#0c0c9c" text-anchor="middle" >W</text><text x="904.1" y="539.8" font-size="11.5" fill="#0c0c9c" text-anchor="middle" >E</text><text x="897.2" y="548.0" font-size="11.5" fill="#0c0c9c" text-anchor="middle" >S</text>
<defs>
<radialGradient id="gl1" cx="650" cy="35" r="150" gradientUnits="userSpaceOnUse">
<stop offset="0" stop-color="#5a96d4" stop-opacity="0.9"/><stop offset="0.5" stop-color="#3f7cc4" stop-opacity="0.55"/><stop offset="1" stop-color="#1c56a6" stop-opacity="0"/></radialGradient>
<radialGradient id="gl2" cx="840" cy="10" r="110" gradientUnits="userSpaceOnUse">
<stop offset="0" stop-color="#3a74c0" stop-opacity="0.6"/><stop offset="1" stop-color="#1c56a6" stop-opacity="0"/></radialGradient>
<linearGradient id="scr1" x1="0" y1="0" x2="0" y2="1"><stop offset="0" stop-color="#15305e"/><stop offset="0.37" stop-color="#10285a"/><stop offset="0.39" stop-color="#050507"/><stop offset="1" stop-color="#0a0a0e"/></linearGradient>
<linearGradient id="map" x1="0" y1="0" x2="1" y2="1"><stop offset="0" stop-color="#3a3a38"/><stop offset="0.5" stop-color="#4a4842"/><stop offset="1" stop-color="#2e2e2c"/></linearGradient>
</defs>
<clipPath id="cBan"><rect x="280" y="0" width="630" height="120"/></clipPath><g clip-path="url(#cBan)">
<rect x="280" y="0" width="630" height="120" fill="#1750a6"/>
<rect x="280" y="0" width="630" height="120" fill="url(#gl1)"/>
<rect x="280" y="0" width="630" height="120" fill="url(#gl2)"/>
<rect x="592" y="6" width="52" height="120" rx="8" fill="#151515" stroke="#6a6a6a" stroke-width="0.8"/>
<rect x="594.5" y="8.5" width="47" height="120" rx="6" fill="url(#scr1)"/>
<rect x="607" y="11" width="18" height="4" rx="2" fill="#000"/>
<rect x="600" y="20" width="33" height="5" rx="1" fill="#0a1830"/>
<circle cx="612" cy="42" r="3" fill="none" stroke="#8aa0c0" stroke-width="0.8"/>
<text x="619" y="45" font-size="7" fill="#dde6f0">2.5°</text>
<rect x="592.5" y="12" width="2.5" height="110" fill="#5e5e5e"/>
<rect x="601" y="61" width="6.5" height="19" rx="1" fill="#121214"/>
<rect x="610" y="61" width="7" height="19" rx="1" fill="#121214"/>
<circle cx="604" cy="70" r="1.6" fill="#1a3070"/><circle cx="613.5" cy="70" r="1.6" fill="#1a3070"/>
<rect x="600" y="84" width="36" height="8" rx="1.5" fill="#111113"/>
<rect x="600" y="95" width="36" height="8" rx="1.5" fill="#111113"/>
<rect x="600" y="106" width="36" height="8" rx="1.5" fill="#111113"/>
<rect x="650" y="22" width="50" height="104" rx="8" fill="#1a1a1a" stroke="#5a5a5a" stroke-width="0.8"/>
<rect x="652.5" y="24.5" width="45" height="104" rx="6" fill="url(#map)"/>
<rect x="667" y="27" width="16" height="4" rx="2" fill="#000"/>
<rect x="655" y="37" width="30" height="7" rx="1.5" fill="#e8e8e8"/>
<circle cx="692" cy="38" r="3.5" fill="#f0f0f0"/>
<ellipse cx="686" cy="84" rx="8" ry="20" fill="#9a8c6c" opacity="0.55"/>
<ellipse cx="680" cy="70" rx="5" ry="6" fill="#8a8066" opacity="0.5"/>
<path d="M 672 58 q 6 10 4 20 q 8 8 6 16 q 4 8 10 12" stroke="#3a5a8a" stroke-width="0.8" fill="none"/>
<circle cx="685" cy="58" r="2" fill="#c0d040" opacity="0.9"/>
<rect x="623" y="46" width="50" height="80" rx="8" fill="#151515" stroke="#5a5a5a" stroke-width="0.8"/>
<rect x="625.5" y="48.5" width="45" height="80" rx="6" fill="#f6f6f6"/>
<rect x="639" y="51" width="16" height="4" rx="2" fill="#000"/>
<rect x="628" y="60" width="31" height="5" rx="1" fill="#2a2a2a"/>
<circle cx="664" cy="62" r="2.6" fill="#333"/>
<rect x="628" y="77" width="36" height="12" fill="#f0f4f8"/>
<polygon points="628,85 638,84 646,82 656,81 664,80 664,89 628,89" fill="#6cc4e4"/>
<polyline points="628,83 638,82 646,80 656,79 664,79" stroke="#d03030" stroke-width="0.8" fill="none"/>
<polyline points="628,85 638,84 646,82 656,81 664,80" stroke="#2040c0" stroke-width="0.8" fill="none"/>
<polyline points="628,91 633,96 640,92 648,96 656,94 668,93" stroke="#e06040" stroke-width="0.7" fill="none"/>
<polyline points="640,112 644,104 648,112" stroke="#40b040" stroke-width="0.7" fill="none"/>
<rect x="628" y="113" width="36" height="8" fill="#b8e030"/>
<rect x="646" y="113" width="5" height="8" fill="#f0f020"/>
<text x="312" y="40" font-size="19.5" fill="#ffffff" stroke="#ffffff" stroke-width="0.35" textLength="156" lengthAdjust="spacingAndGlyphs">Oficjalna aplikacja</text>
<text x="312" y="67" font-size="19.5" fill="#ffffff" font-weight="bold" textLength="99" lengthAdjust="spacingAndGlyphs">Meteo ICM</text>
<text x="418.5" y="67" font-size="19.5" fill="#ffffff" stroke="#ffffff" stroke-width="0.35" textLength="103" lengthAdjust="spacingAndGlyphs">do pobrania</text>
<text x="312" y="95.5" font-size="19.5" fill="#ffffff" stroke="#ffffff" stroke-width="0.35" textLength="224" lengthAdjust="spacingAndGlyphs">w Google Play i App Store</text>
<text x="765" y="90.5" font-size="22" font-weight="bold" fill="#ffffff" stroke="#ffffff" stroke-width="0.6" textLength="90" lengthAdjust="spacingAndGlyphs">icmmeteo</text>
<path d="M 756.9 74.7 C 760 70, 764 67.2, 767.5 67.3 C 771.5 67.5, 774 71, 773.8 77.7 L 771 77.7 C 771 73, 769.5 70, 767 70 C 763.5 70.2, 760 72.5, 756.9 74.7 Z" fill="#ffffff"/>
<path d="M 751.5 87.3 C 750.3 93, 752.5 99, 758.6 100.5 C 762.5 101, 765.5 97.5, 767.5 93.4 C 764 95.8, 761.5 97.2, 759 97 C 754.5 96.2, 752 92, 751.5 87.3 Z" fill="#ffffff"/>
<rect x="860.5" y="72.8" width="25.5" height="25" rx="2" fill="#ffffff"/>
<text x="863" y="90.5" font-size="16" font-weight="bold" fill="#1a52a3">M</text>
<circle cx="881.5" cy="78.5" r="2" fill="none" stroke="#1a52a3" stroke-width="1.1"/>
</g>
<rect x="170.0" y="30" width="61.599999999999994" height="598" fill="#eef4fc"/>
<clipPath id="lT"><rect x="135.5" y="57.1" width="110.1" height="77.5"/></clipPath>
<rect x="135.5" y="57.1" width="110.1" height="77.5" fill="#ffffff"/>
<rect x="170.0" y="57.1" width="61.599999999999994" height="77.5" fill="#eef4fc"/>
<g clip-path="url(#lT)">
<rect x="135.5" y="111.7" width="110.1" height="22.89999999999999" fill="#87d3fa"/><rect x="170.0" y="111.7" width="61.599999999999994" height="22.89999999999999" fill="#7ebfea"/>
<polygon points="135.5,88.2 163.4,99.1 184.6,107.3 211.9,108.7 232.3,110.0 245.7,105.9 245.7,114.1 232.3,120.9 211.9,116.8 184.6,113.4 163.4,110.0 135.5,101.8" fill="#ffe6dc" />
<polygon points="135.5,101.2 163.4,108.7 184.6,112.1 211.9,116.8 232.3,120.3 245.7,114.1 245.7,126.4 232.3,130.5 211.9,126.4 170.9,115.5 135.5,107.3" fill="#c4e6fb" />
<line x1="142.5" y1="57.0" x2="142.5" y2="134.6" stroke="#000" stroke-width="1" stroke-dasharray="2,2"/><line x1="163.5" y1="57.0" x2="163.5" y2="134.6" stroke="#000" stroke-width="1" stroke-dasharray="2,2"/><line x1="184.5" y1="57.0" x2="184.5" y2="134.6" stroke="#000" stroke-width="1" stroke-dasharray="2,2"/><line x1="205.5" y1="57.0" x2="205.5" y2="134.6" stroke="#000" stroke-width="1" stroke-dasharray="2,2"/><line x1="226.5" y1="57.0" x2="226.5" y2="134.6" stroke="#000" stroke-width="1" stroke-dasharray="2,2"/><line x1="138.0" y1="59.5" x2="245.6" y2="59.5" stroke="#000" stroke-width="1" stroke-dasharray="2,2"/><line x1="138.0" y1="77.5" x2="245.6" y2="77.5" stroke="#000" stroke-width="1" stroke-dasharray="2,2"/><line x1="138.0" y1="94.5" x2="245.6" y2="94.5" stroke="#000" stroke-width="1" stroke-dasharray="2,2"/><line x1="138.0" y1="111.5" x2="245.6" y2="111.5" stroke="#000" stroke-width="1" stroke-dasharray="2,2"/><line x1="138.0" y1="129.5" x2="245.6" y2="129.5" stroke="#000" stroke-width="1" stroke-dasharray="2,2"/>
<line x1="142.3" y1="70.5" x2="142.3" y2="90.9" stroke="#b01818" stroke-width="1.2" />
<line x1="149.4" y1="78.0" x2="149.4" y2="92.3" stroke="#b01818" stroke-width="1.2" />
<line x1="156.6" y1="86.8" x2="156.6" y2="99.1" stroke="#b01818" stroke-width="1.2" />
<line x1="163.4" y1="96.4" x2="163.4" y2="107.3" stroke="#b01818" stroke-width="1.2" />
<line x1="170.5" y1="101.2" x2="170.5" y2="113.4" stroke="#b01818" stroke-width="1.2" />
<line x1="177.5" y1="103.2" x2="177.5" y2="118.2" stroke="#b01818" stroke-width="1.2" />
<line x1="184.6" y1="105.9" x2="184.6" y2="120.9" stroke="#b01818" stroke-width="1.2" />
<line x1="191.7" y1="107.3" x2="191.7" y2="123.7" stroke="#b01818" stroke-width="1.2" />
<line x1="198.6" y1="108.0" x2="198.6" y2="125.7" stroke="#b01818" stroke-width="1.2" />
<line x1="205.4" y1="108.7" x2="205.4" y2="127.8" stroke="#b01818" stroke-width="1.2" />
<line x1="212.5" y1="109.3" x2="212.5" y2="129.1" stroke="#b01818" stroke-width="1.2" />
<line x1="219.4" y1="110.0" x2="219.4" y2="130.5" stroke="#b01818" stroke-width="1.2" />
<line x1="226.5" y1="111.4" x2="226.5" y2="133.2" stroke="#b01818" stroke-width="1.2" />
<line x1="233.7" y1="112.1" x2="233.7" y2="132.5" stroke="#b01818" stroke-width="1.2" />
<line x1="240.5" y1="105.9" x2="240.5" y2="120.9" stroke="#b01818" stroke-width="1.2" />
<polyline points="135.5,98.8 142.3,99.1 150.5,101.6 163.4,107.3 170.9,111.4 184.6,112.8 198.2,113.4 211.9,115.2 225.5,116.2 232.3,119.6 239.1,114.8 245.7,111.4" fill="none" stroke="#ff0000" stroke-width="2.2" stroke-linejoin="round" stroke-linecap="round" />
<polyline points="135.5,102.5 142.3,103.5 150.5,105.9 163.4,110.7 170.9,112.1 184.6,113.8 198.2,116.8 211.9,118.9 217.3,116.8 225.5,117.5 232.3,122.3 239.1,116.2 245.7,115.8" fill="none" stroke="#0000ff" stroke-width="2.2" stroke-linejoin="round" stroke-linecap="round" />
<rect x="140.7" y="111.4" width="3.2" height="3.2" fill="#6a5acd"/>
<rect x="147.8" y="111.8" width="3.2" height="3.2" fill="#6a5acd"/>
<rect x="154.9" y="113.9" width="3.2" height="3.2" fill="#6a5acd"/>
<rect x="162.0" y="113.9" width="3.2" height="3.2" fill="#6a5acd"/>
<rect x="169.1" y="111.4" width="3.2" height="3.2" fill="#6a5acd"/>
<rect x="176.1" y="111.8" width="3.2" height="3.2" fill="#6a5acd"/>
<rect x="183.2" y="112.5" width="3.2" height="3.2" fill="#6a5acd"/>
<rect x="190.3" y="116.6" width="3.2" height="3.2" fill="#6a5acd"/>
<rect x="197.4" y="116.6" width="3.2" height="3.2" fill="#6a5acd"/>
<rect x="204.5" y="117.3" width="3.2" height="3.2" fill="#6a5acd"/>
<rect x="211.6" y="118.0" width="3.2" height="3.2" fill="#6a5acd"/>
<rect x="218.7" y="118.7" width="3.2" height="3.2" fill="#6a5acd"/>
<rect x="225.8" y="117.3" width="3.2" height="3.2" fill="#6a5acd"/>
<rect x="232.9" y="119.3" width="3.2" height="3.2" fill="#6a5acd"/>
<rect x="240.0" y="116.6" width="3.2" height="3.2" fill="#6a5acd"/>
</g>
<rect x="135.5" y="57.5" width="110" height="77.0" fill="none" stroke="#000" stroke-width="1.1"/>
<rect x="135.5" y="143.2" width="110.1" height="77.0" fill="#ffffff"/>
<rect x="170.0" y="143.2" width="61.599999999999994" height="77.0" fill="#eef4fc"/>
<polygon points="135.5,220.2 135.5,187.1 142.8,187.1 142.8,181.0 149.0,181.0 149.0,179.2 156.9,179.2 156.9,203.5 163.9,203.5 163.9,207.3 170.1,207.3 170.1,217.9 176.2,217.9 176.2,220.2" fill="#0a960a" />
<polygon points="156.9,181.8 163.9,181.8 163.9,201.7 156.9,201.7" fill="#1a3acc" />
<polygon points="163.9,204.7 170.1,204.7 170.1,207.3 163.9,207.3" fill="#1a3acc" />
<line x1="142.5" y1="143.0" x2="142.5" y2="220.2" stroke="#000" stroke-width="1" stroke-dasharray="2,2"/><line x1="163.5" y1="143.0" x2="163.5" y2="220.2" stroke="#000" stroke-width="1" stroke-dasharray="2,2"/><line x1="184.5" y1="143.0" x2="184.5" y2="220.2" stroke="#000" stroke-width="1" stroke-dasharray="2,2"/><line x1="205.5" y1="143.0" x2="205.5" y2="220.2" stroke="#000" stroke-width="1" stroke-dasharray="2,2"/><line x1="226.5" y1="143.0" x2="226.5" y2="220.2" stroke="#000" stroke-width="1" stroke-dasharray="2,2"/><line x1="138.0" y1="150.5" x2="245.6" y2="150.5" stroke="#000" stroke-width="1" stroke-dasharray="2,2"/><line x1="138.0" y1="167.5" x2="245.6" y2="167.5" stroke="#000" stroke-width="1" stroke-dasharray="2,2"/><line x1="138.0" y1="185.5" x2="245.6" y2="185.5" stroke="#000" stroke-width="1" stroke-dasharray="2,2"/><line x1="138.0" y1="203.5" x2="245.6" y2="203.5" stroke="#000" stroke-width="1" stroke-dasharray="2,2"/>
<polyline points="136.7,172.2 142.8,167.8 148.1,160.8 153.4,156.4 163.9,152.8 183.3,152.5 190.3,149.3 197.3,149.0 207.9,155.5 211.4,156.0 225.4,149.7 232.5,150.7 239.5,154.6 245.7,163.4" fill="none" stroke="#e8501a" stroke-width="2.2" stroke-linejoin="round" stroke-linecap="round" />
<line x1="139.3" y1="165.1" x2="139.3" y2="187.1" stroke="#10b010" stroke-width="1.2" />
<line x1="146.4" y1="147.6" x2="146.4" y2="181.0" stroke="#10b010" stroke-width="1.2" />
<line x1="153.4" y1="147.6" x2="153.4" y2="179.2" stroke="#10b010" stroke-width="1.2" />
<circle cx="139.3" cy="173.1" r="2.6" fill="#ffd700" stroke="#8a6a00" stroke-width="0.6"/>
<circle cx="146.4" cy="173.1" r="2.6" fill="#ffa500" stroke="#8a6a00" stroke-width="0.6"/>
<circle cx="153.4" cy="173.1" r="2.6" fill="#ff2000" stroke="#8a6a00" stroke-width="0.6"/>
<rect x="144.9" y="146.1" width="3" height="3" fill="#ff1010"/>
<rect x="151.9" y="146.1" width="3" height="3" fill="#ff1010"/>
<line x1="137.0" y1="219.5" x2="178.0" y2="219.5" stroke="#ff1010" stroke-width="1.2" stroke-dasharray="3,3"/>
<rect x="135.5" y="143.5" width="110" height="77.0" fill="none" stroke="#000" stroke-width="1.1"/>
<rect x="135.5" y="229.7" width="110.1" height="76.30000000000001" fill="#ffffff"/>
<rect x="170.0" y="229.7" width="61.599999999999994" height="76.30000000000001" fill="#eef4fc"/>
<clipPath id="lP"><polygon points="135.5,306.0 135.5,262.2 142.8,260.1 149.0,254.3 157.8,249.0 163.9,248.5 170.1,245.5 178.0,248.1 191.2,253.4 225.4,253.4 245.7,265.3 245.6,306.0"/></clipPath>
<g clip-path="url(#lP)"><rect x="135.5" y="229.7" width="110.1" height="76.30000000000001" fill="#ffff00"/><rect x="164.5" y="229" width="5.5" height="78" fill="#ffd010"/></g>
<line x1="142.5" y1="229.0" x2="142.5" y2="306.0" stroke="#000" stroke-width="1" stroke-dasharray="2,2"/><line x1="163.5" y1="229.0" x2="163.5" y2="306.0" stroke="#000" stroke-width="1" stroke-dasharray="2,2"/><line x1="184.5" y1="229.0" x2="184.5" y2="306.0" stroke="#000" stroke-width="1" stroke-dasharray="2,2"/><line x1="205.5" y1="229.0" x2="205.5" y2="306.0" stroke="#000" stroke-width="1" stroke-dasharray="2,2"/><line x1="226.5" y1="229.0" x2="226.5" y2="306.0" stroke="#000" stroke-width="1" stroke-dasharray="2,2"/><line x1="138.0" y1="230.5" x2="245.6" y2="230.5" stroke="#000" stroke-width="1" stroke-dasharray="2,2"/><line x1="138.0" y1="254.5" x2="245.6" y2="254.5" stroke="#000" stroke-width="1" stroke-dasharray="2,2"/><line x1="138.0" y1="277.5" x2="245.6" y2="277.5" stroke="#000" stroke-width="1" stroke-dasharray="2,2"/><line x1="138.0" y1="301.5" x2="245.6" y2="301.5" stroke="#000" stroke-width="1" stroke-dasharray="2,2"/>
<polyline points="135.5,262.2 142.8,260.1 149.0,254.3 157.8,249.0 163.9,248.5 170.1,245.5 178.0,248.1 191.2,253.4 225.4,253.4 245.7,265.3" fill="none" stroke="#111" stroke-width="2.2" stroke-linejoin="round" stroke-linecap="round" />
<rect x="135.5" y="229.5" width="110" height="77.0" fill="none" stroke="#000" stroke-width="1.1"/>
<rect x="135.5" y="315.6" width="110.1" height="76.39999999999998" fill="#ffffff"/>
<rect x="170.0" y="315.6" width="61.599999999999994" height="76.39999999999998" fill="#eef4fc"/>
<clipPath id="lW"><polygon points="135.5,392.0 135.5,365.4 142.8,368.0 155.1,371.5 169.2,374.1 179.8,375.4 197.3,372.4 225.4,372.4 234.2,370.6 245.7,369.8 245.6,392.0"/></clipPath>
<g clip-path="url(#lW)"><rect x="135.5" y="315.6" width="12.7" height="76.39999999999998" fill="#10c010"/><rect x="148.1" y="315.6" width="21.1" height="76.39999999999998" fill="#008000"/><rect x="169.2" y="315.6" width="28.1" height="76.39999999999998" fill="#0a4a90"/><rect x="197.3" y="315.6" width="14.1" height="76.39999999999998" fill="#008000"/><rect x="211.4" y="315.6" width="14.1" height="76.39999999999998" fill="#0a4a90"/><rect x="225.4" y="315.6" width="14.1" height="76.39999999999998" fill="#008000"/><rect x="239.5" y="315.6" width="6.2" height="76.39999999999998" fill="#10c010"/></g>
<line x1="142.5" y1="315.0" x2="142.5" y2="392.0" stroke="#000" stroke-width="1" stroke-dasharray="2,2"/><line x1="163.5" y1="315.0" x2="163.5" y2="392.0" stroke="#000" stroke-width="1" stroke-dasharray="2,2"/><line x1="184.5" y1="315.0" x2="184.5" y2="392.0" stroke="#000" stroke-width="1" stroke-dasharray="2,2"/><line x1="205.5" y1="315.0" x2="205.5" y2="392.0" stroke="#000" stroke-width="1" stroke-dasharray="2,2"/><line x1="226.5" y1="315.0" x2="226.5" y2="392.0" stroke="#000" stroke-width="1" stroke-dasharray="2,2"/><line x1="138.0" y1="334.5" x2="245.6" y2="334.5" stroke="#000" stroke-width="1" stroke-dasharray="2,2"/><line x1="138.0" y1="354.5" x2="245.6" y2="354.5" stroke="#000" stroke-width="1" stroke-dasharray="2,2"/><line x1="138.0" y1="373.5" x2="245.6" y2="373.5" stroke="#000" stroke-width="1" stroke-dasharray="2,2"/>
<polyline points="135.5,365.4 142.8,368.0 155.1,371.5 169.2,374.1 179.8,375.4 197.3,372.4 225.4,372.4 234.2,370.6 245.7,369.8" fill="none" stroke="#0a1a90" stroke-width="2.4" stroke-linejoin="round" stroke-linecap="round" />
<line x1="142.8" y1="340.8" x2="149.0" y2="340.8" stroke="#ff1010" stroke-width="1.2" />
<line x1="148.1" y1="347.4" x2="162.2" y2="347.4" stroke="#ff1010" stroke-width="1.2" />
<line x1="162.2" y1="351.3" x2="170.1" y2="351.3" stroke="#ff1010" stroke-width="1.2" />
<line x1="170.1" y1="355.3" x2="176.2" y2="355.3" stroke="#ff1010" stroke-width="1.2" />
<line x1="176.2" y1="358.0" x2="185.0" y2="358.0" stroke="#ff1010" stroke-width="1.2" />
<line x1="185.0" y1="354.5" x2="190.3" y2="354.5" stroke="#ff1010" stroke-width="1.2" />
<line x1="190.3" y1="351.7" x2="197.3" y2="351.7" stroke="#ff1010" stroke-width="1.2" />
<line x1="197.3" y1="350.8" x2="211.4" y2="350.8" stroke="#ff1010" stroke-width="1.2" />
<line x1="211.4" y1="351.7" x2="225.4" y2="351.7" stroke="#ff1010" stroke-width="1.2" />
<line x1="225.4" y1="347.4" x2="232.5" y2="347.4" stroke="#ff1010" stroke-width="1.2" />
<line x1="232.5" y1="343.4" x2="239.5" y2="343.4" stroke="#ff1010" stroke-width="1.2" />
<line x1="239.5" y1="342.5" x2="245.7" y2="342.5" stroke="#ff1010" stroke-width="1.2" />
<rect x="135.5" y="315.5" width="110" height="77.0" fill="none" stroke="#000" stroke-width="1.1"/>
<rect x="135.5" y="398.4" width="110.1" height="31.600000000000023" fill="#ffffff"/>
<rect x="170.0" y="398.4" width="61.599999999999994" height="31.600000000000023" fill="#eef4fc"/>
<line x1="142.5" y1="398.0" x2="142.5" y2="430.0" stroke="#000" stroke-width="1" stroke-dasharray="2,2"/><line x1="163.5" y1="398.0" x2="163.5" y2="430.0" stroke="#000" stroke-width="1" stroke-dasharray="2,2"/><line x1="184.5" y1="398.0" x2="184.5" y2="430.0" stroke="#000" stroke-width="1" stroke-dasharray="2,2"/><line x1="205.5" y1="398.0" x2="205.5" y2="430.0" stroke="#000" stroke-width="1" stroke-dasharray="2,2"/><line x1="226.5" y1="398.0" x2="226.5" y2="430.0" stroke="#000" stroke-width="1" stroke-dasharray="2,2"/>
<rect x="135.5" y="398.5" width="110" height="32.0" fill="none" stroke="#000" stroke-width="1.1"/>
<line x1="137.0" y1="404.0" x2="143.0" y2="422.0" stroke="#0a0a90" stroke-width="1.2" /><polygon points="143.5,424.0 139.0,420.0 144.0,418.0" fill="#0a0a90" /><line x1="144.0" y1="404.0" x2="150.0" y2="422.0" stroke="#0a0a90" stroke-width="1.2" /><polygon points="150.5,424.0 146.0,420.0 151.0,418.0" fill="#0a0a90" /><line x1="151.0" y1="404.0" x2="157.0" y2="422.0" stroke="#0a0a90" stroke-width="1.2" /><polygon points="157.5,424.0 153.0,420.0 158.0,418.0" fill="#0a0a90" /><line x1="158.0" y1="404.0" x2="164.0" y2="422.0" stroke="#0a0a90" stroke-width="1.2" /><polygon points="164.5,424.0 160.0,420.0 165.0,418.0" fill="#0a0a90" /><line x1="165.0" y1="404.0" x2="171.0" y2="422.0" stroke="#0a0a90" stroke-width="1.2" /><polygon points="171.5,424.0 167.0,420.0 172.0,418.0" fill="#0a0a90" /><line x1="172.0" y1="404.0" x2="178.0" y2="422.0" stroke="#0a0a90" stroke-width="1.2" /><polygon points="178.5,424.0 174.0,420.0 179.0,418.0" fill="#0a0a90" /><line x1="179.0" y1="404.0" x2="185.0" y2="422.0" stroke="#0a0a90" stroke-width="1.2" /><polygon points="185.5,424.0 181.0,420.0 186.0,418.0" fill="#0a0a90" /><line x1="186.0" y1="404.0" x2="192.0" y2="422.0" stroke="#0a0a90" stroke-width="1.2" /><polygon points="192.5,424.0 188.0,420.0 193.0,418.0" fill="#0a0a90" /><line x1="193.0" y1="404.0" x2="199.0" y2="422.0" stroke="#0a0a90" stroke-width="1.2" /><polygon points="199.5,424.0 195.0,420.0 200.0,418.0" fill="#0a0a90" /><line x1="200.0" y1="404.0" x2="206.0" y2="422.0" stroke="#0a0a90" stroke-width="1.2" /><polygon points="206.5,424.0 202.0,420.0 207.0,418.0" fill="#0a0a90" /><line x1="207.0" y1="404.0" x2="213.0" y2="422.0" stroke="#0a0a90" stroke-width="1.2" /><polygon points="213.5,424.0 209.0,420.0 214.0,418.0" fill="#0a0a90" /><line x1="214.0" y1="404.0" x2="220.0" y2="422.0" stroke="#0a0a90" stroke-width="1.2" /><polygon points="220.5,424.0 216.0,420.0 221.0,418.0" fill="#0a0a90" /><line x1="221.0" y1="404.0" x2="227.0" y2="422.0" stroke="#0a0a90" stroke-width="1.2" /><polygon points="227.5,424.0 223.0,420.0 228.0,418.0" fill="#0a0a90" /><line x1="228.0" y1="404.0" x2="234.0" y2="422.0" stroke="#0a0a90" stroke-width="1.2" /><polygon points="234.5,424.0 230.0,420.0 235.0,418.0" fill="#0a0a90" /><line x1="235.0" y1="404.0" x2="241.0" y2="422.0" stroke="#0a0a90" stroke-width="1.2" /><polygon points="241.5,424.0 237.0,420.0 242.0,418.0" fill="#0a0a90" /><line x1="242.0" y1="404.0" x2="248.0" y2="422.0" stroke="#0a0a90" stroke-width="1.2" /><polygon points="248.5,424.0 244.0,420.0 249.0,418.0" fill="#0a0a90" /><polygon points="135.0,418.0 137.0,424.0 142.0,421.0" fill="#0a0a90" />
<rect x="135.5" y="436.5" width="110.1" height="77.79999999999995" fill="#87d3fa"/><rect x="170.0" y="436.5" width="61.599999999999994" height="77.79999999999995" fill="#7ebfea"/>
<line x1="142.5" y1="436.0" x2="142.5" y2="514.3" stroke="#000" stroke-width="1" stroke-dasharray="2,2"/><line x1="163.5" y1="436.0" x2="163.5" y2="514.3" stroke="#000" stroke-width="1" stroke-dasharray="2,2"/><line x1="184.5" y1="436.0" x2="184.5" y2="514.3" stroke="#000" stroke-width="1" stroke-dasharray="2,2"/><line x1="205.5" y1="436.0" x2="205.5" y2="514.3" stroke="#000" stroke-width="1" stroke-dasharray="2,2"/><line x1="226.5" y1="436.0" x2="226.5" y2="514.3" stroke="#000" stroke-width="1" stroke-dasharray="2,2"/><line x1="138.0" y1="456.5" x2="245.6" y2="456.5" stroke="#000" stroke-width="1" stroke-dasharray="2,2"/><line x1="138.0" y1="475.5" x2="245.6" y2="475.5" stroke="#000" stroke-width="1" stroke-dasharray="2,2"/><line x1="138.0" y1="495.5" x2="245.6" y2="495.5" stroke="#000" stroke-width="1" stroke-dasharray="2,2"/>
<clipPath id="lC"><rect x="135.5" y="436.5" width="110.1" height="77.79999999999995"/></clipPath>
<g clip-path="url(#lC)"><polyline points="135.7,470.5 143.6,470.1 151.0,464.9 158.5,463.4 173.5,463.4 179.1,464.5 184.7,466.7 192.1,469.5 199.6,470.5 210.8,471.4 218.3,474.2 229.5,474.2 238.5,471.4 245.4,469.5" fill="none" stroke="#ff9a00" stroke-width="2.2" stroke-linejoin="round" stroke-linecap="round" /><circle cx="150.5" cy="458.7" r="2.4" fill="#a82020"/><circle cx="157.6" cy="458.7" r="2.4" fill="#a82020"/><circle cx="164.7" cy="459.8" r="2.4" fill="#a82020"/><circle cx="170.3" cy="451.4" r="2.4" fill="#a82020"/><circle cx="177.2" cy="449.0" r="2.4" fill="#a82020"/><circle cx="184.3" cy="449.0" r="2.4" fill="#a82020"/><circle cx="191.4" cy="449.0" r="2.4" fill="#a82020"/><circle cx="198.3" cy="451.4" r="2.4" fill="#a82020"/><circle cx="204.7" cy="449.0" r="2.4" fill="#a82020"/><circle cx="211.8" cy="449.0" r="2.4" fill="#a82020"/><circle cx="218.7" cy="449.0" r="2.4" fill="#a82020"/><circle cx="225.8" cy="449.0" r="2.4" fill="#a82020"/><circle cx="232.7" cy="449.0" r="2.4" fill="#a82020"/><circle cx="239.8" cy="449.0" r="2.4" fill="#a82020"/><circle cx="245.4" cy="449.0" r="2.4" fill="#a82020"/><circle cx="137.0" cy="475.1" r="2.4" fill="#a82020"/><circle cx="143.6" cy="475.1" r="2.4" fill="#a82020"/><circle cx="191.6" cy="456.4" r="2.4" fill="#000000"/><circle cx="198.3" cy="464.3" r="2.4" fill="#000000"/><circle cx="204.7" cy="468.2" r="2.4" fill="#000000"/><circle cx="211.8" cy="470.1" r="2.4" fill="#000000"/><circle cx="218.3" cy="481.3" r="2.4" fill="#000000"/><circle cx="225.8" cy="485.4" r="2.4" fill="#000000"/><circle cx="232.3" cy="489.2" r="2.4" fill="#000000"/><circle cx="239.4" cy="481.3" r="2.4" fill="#000000"/><circle cx="244.5" cy="476.1" r="2.4" fill="#000000"/><circle cx="184.3" cy="489.2" r="2.4" fill="#000000"/><circle cx="143.6" cy="481.3" r="2.4" fill="#505050"/><circle cx="150.5" cy="492.0" r="2.4" fill="#505050"/><circle cx="157.6" cy="492.0" r="2.4" fill="#505050"/><circle cx="164.7" cy="492.0" r="2.4" fill="#505050"/><circle cx="191.6" cy="489.2" r="2.4" fill="#505050"/><circle cx="198.3" cy="468.6" r="2.4" fill="#505050"/><circle cx="211.8" cy="481.3" r="2.4" fill="#505050"/><circle cx="218.3" cy="489.2" r="2.4" fill="#505050"/><circle cx="225.8" cy="492.0" r="2.4" fill="#505050"/><circle cx="232.3" cy="493.8" r="2.4" fill="#505050"/><circle cx="184.3" cy="500.4" r="2.4" fill="#505050"/><circle cx="198.3" cy="485.4" r="2.4" fill="#9a9a9a"/><circle cx="211.8" cy="485.4" r="2.4" fill="#9a9a9a"/><circle cx="177.2" cy="489.2" r="2.4" fill="#9a9a9a"/><circle cx="143.9" cy="500.4" r="2.4" fill="#9a9a9a"/><circle cx="218.3" cy="500.4" r="2.4" fill="#9a9a9a"/><circle cx="232.3" cy="500.4" r="2.4" fill="#9a9a9a"/><circle cx="239.4" cy="500.4" r="2.4" fill="#9a9a9a"/><circle cx="225.8" cy="500.4" r="2.4" fill="#9a9a9a"/><circle cx="239.4" cy="493.8" r="2.4" fill="#9a9a9a"/><circle cx="170.3" cy="489.2" r="2.4" fill="#d8d0c8"/><circle cx="198.3" cy="490.1" r="2.4" fill="#d8d0c8"/><circle cx="211.8" cy="489.5" r="2.4" fill="#d8d0c8"/><circle cx="136.1" cy="505.0" r="2.4" fill="#d8d0c8"/><circle cx="150.5" cy="500.4" r="2.4" fill="#ffffff"/><circle cx="164.7" cy="498.5" r="2.4" fill="#ffffff"/><circle cx="177.2" cy="492.0" r="2.4" fill="#ffffff"/><circle cx="191.4" cy="500.4" r="2.4" fill="#ffffff"/><circle cx="184.3" cy="509.3" r="2.4" fill="#ffffff"/><circle cx="218.3" cy="509.3" r="2.4" fill="#ffffff"/><circle cx="225.8" cy="509.3" r="2.4" fill="#ffffff"/><circle cx="232.3" cy="509.3" r="2.4" fill="#ffffff"/><circle cx="239.4" cy="509.3" r="2.4" fill="#ffffff"/><circle cx="170.3" cy="492.0" r="2.4" fill="#ffffff"/><circle cx="204.7" cy="492.0" r="2.4" fill="#ffffff"/><circle cx="211.8" cy="492.0" r="2.4" fill="#ffffff"/><circle cx="143.6" cy="505.0" r="2.4" fill="#ffffff"/></g>
<rect x="135.5" y="436.5" width="110" height="78.0" fill="none" stroke="#000" stroke-width="1.1"/>
<rect x="135.5" y="523.5" width="110.1" height="77.70000000000005" fill="#87d3fa"/><rect x="170.0" y="523.5" width="61.599999999999994" height="77.70000000000005" fill="#7ebfea"/>
<clipPath id="lK"><rect x="135.5" y="523.5" width="110.1" height="77.70000000000005"/></clipPath>
<g clip-path="url(#lK)">
<polygon points="165.7,601.2 170.9,576.7 176.4,565.1 184.6,564.1 187.3,557.6 190.0,549.0 196.2,544.7 204.8,542.8 206.5,538.1 210.4,528.2 214.6,524.4 245.7,523.7 245.7,601.2" fill="#ffffff" />
<polygon points="193.0,601.2 194.1,571.2 197.4,558.9 197.9,531.2 206.5,532.5 208.4,533.7 210.8,528.9 215.1,525.4 245.7,524.8 245.7,601.2" fill="#9a9a9a" />
<polyline points="204.8,542.8 206.5,538.1 210.4,528.2 214.6,524.4 233.1,524.3 244.2,543.5" fill="none" stroke="#ffffff" stroke-width="1.2" stroke-linejoin="round" stroke-linecap="round" />
<polygon points="134.1,601.2 135.5,571.2 143.4,563.7 150.5,576.7 157.3,583.5 165.2,588.3 166.2,594.4 170.9,592.4 177.1,592.8 183.9,568.8 190.7,569.6 193.4,580.1 197.5,588.9 204.8,596.9 209.8,583.5 217.3,551.4 225.5,535.1 232.3,538.5 238.5,552.1 243.9,563.7 245.7,567.1 245.7,601.2" fill="#555555" />
<polygon points="138.2,601.2 149.1,591.0 164.8,599.2 164.8,601.2" fill="#303030" />
<polyline points="136.1,588.9 153.9,600.5" fill="none" stroke="#a0a0a0" stroke-width="1" stroke-linejoin="round" stroke-linecap="round" />
<polyline points="184.6,600.5 193.0,572.6" fill="none" stroke="#b0b0b0" stroke-width="1" stroke-linejoin="round" stroke-linecap="round" />
</g>
<line x1="142.5" y1="523.0" x2="142.5" y2="601.2" stroke="#000" stroke-width="1" stroke-dasharray="2,2"/><line x1="163.5" y1="523.0" x2="163.5" y2="601.2" stroke="#000" stroke-width="1" stroke-dasharray="2,2"/><line x1="184.5" y1="523.0" x2="184.5" y2="601.2" stroke="#000" stroke-width="1" stroke-dasharray="2,2"/><line x1="205.5" y1="523.0" x2="205.5" y2="601.2" stroke="#000" stroke-width="1" stroke-dasharray="2,2"/><line x1="226.5" y1="523.0" x2="226.5" y2="601.2" stroke="#000" stroke-width="1" stroke-dasharray="2,2"/><line x1="138.0" y1="543.5" x2="245.6" y2="543.5" stroke="#000" stroke-width="1" stroke-dasharray="2,2"/><line x1="138.0" y1="562.5" x2="245.6" y2="562.5" stroke="#000" stroke-width="1" stroke-dasharray="2,2"/><line x1="138.0" y1="582.5" x2="245.6" y2="582.5" stroke="#000" stroke-width="1" stroke-dasharray="2,2"/>
<rect x="217.3" y="590.3" width="2.8999999999999773" height="10.5" fill="#ffb400"/>
<rect x="224.1" y="590.3" width="3.0" height="10.5" fill="#ffb400"/>
<rect x="231" y="590.3" width="3" height="10.5" fill="#ffb400"/>
<rect x="238.2" y="590.3" width="3.0" height="10.5" fill="#ffb400"/>
<rect x="135.5" y="523.5" width="110" height="78.0" fill="none" stroke="#000" stroke-width="1.1"/>
<text x="129.0" y="62.0" font-size="11" fill="#000" text-anchor="end" >30</text>
<text x="250.0" y="62.0" font-size="11" fill="#000" text-anchor="start" >30</text>
<text x="129.0" y="80.0" font-size="11" fill="#000" text-anchor="end" >20</text>
<text x="250.0" y="80.0" font-size="11" fill="#000" text-anchor="start" >20</text>
<text x="129.0" y="97.0" font-size="11" fill="#000" text-anchor="end" >10</text>
<text x="250.0" y="97.0" font-size="11" fill="#000" text-anchor="start" >10</text>
<text x="129.0" y="114.5" font-size="11" fill="#000" text-anchor="end" >0</text>
<text x="250.0" y="114.5" font-size="11" fill="#000" text-anchor="start" >0</text>
<text x="129.0" y="132.5" font-size="11" fill="#000" text-anchor="end" >-10</text>
<text x="250.0" y="132.5" font-size="11" fill="#000" text-anchor="start" >-10</text>
<text x="129.0" y="154.0" font-size="11" fill="#000" text-anchor="end" >2.0</text>
<text x="252.0" y="154.0" font-size="11" fill="#e8501a" text-anchor="start" >96</text>
<text x="129.0" y="171.5" font-size="11" fill="#000" text-anchor="end" >1.5</text>
<text x="252.0" y="171.5" font-size="11" fill="#e8501a" text-anchor="start" >84</text>
<text x="129.0" y="188.5" font-size="11" fill="#000" text-anchor="end" >1.0</text>
<text x="252.0" y="188.5" font-size="11" fill="#e8501a" text-anchor="start" >73</text>
<text x="129.0" y="206.0" font-size="11" fill="#000" text-anchor="end" >0.5</text>
<text x="252.0" y="206.0" font-size="11" fill="#e8501a" text-anchor="start" >61</text>
<text x="129.0" y="223.0" font-size="11" fill="#000" text-anchor="end" >0.0</text>
<text x="252.0" y="223.0" font-size="11" fill="#e8501a" text-anchor="start" >50</text>
<text x="129.0" y="234.6" font-size="11" fill="#000" text-anchor="end" >1018</text>
<text x="250.0" y="234.6" font-size="11" fill="#000" text-anchor="start" >1018</text>
<text x="129.0" y="257.8" font-size="11" fill="#000" text-anchor="end" >1016</text>
<text x="250.0" y="257.8" font-size="11" fill="#000" text-anchor="start" >1016</text>
<text x="129.0" y="281.5" font-size="11" fill="#000" text-anchor="end" >1014</text>
<text x="250.0" y="281.5" font-size="11" fill="#000" text-anchor="start" >1014</text>
<text x="129.0" y="304.5" font-size="11" fill="#000" text-anchor="end" >1012</text>
<text x="250.0" y="304.5" font-size="11" fill="#000" text-anchor="start" >1012</text>
<text x="129.0" y="319.5" font-size="11" fill="#000" text-anchor="end" >20</text>
<text x="250.0" y="319.5" font-size="11" fill="#000" text-anchor="start" >72</text>
<text x="129.0" y="338.5" font-size="11" fill="#000" text-anchor="end" >15</text>
<text x="250.0" y="338.5" font-size="11" fill="#000" text-anchor="start" >54</text>
<text x="129.0" y="357.8" font-size="11" fill="#000" text-anchor="end" >10</text>
<text x="250.0" y="357.8" font-size="11" fill="#000" text-anchor="start" >36</text>
<text x="129.0" y="376.8" font-size="11" fill="#000" text-anchor="end" >5</text>
<text x="250.0" y="376.8" font-size="11" fill="#000" text-anchor="start" >18</text>
<text x="129.0" y="395.5" font-size="11" fill="#000" text-anchor="end" >0</text>
<text x="250.0" y="395.5" font-size="11" fill="#000" text-anchor="start" >0</text>
<text x="129.0" y="440.0" font-size="11" fill="#000" text-anchor="end" >15.0</text>
<text x="250.0" y="440.0" font-size="11" fill="#ff8c00" text-anchor="start" >100</text>
<text x="129.0" y="459.5" font-size="11" fill="#000" text-anchor="end" >7.0</text>
<text x="250.0" y="459.5" font-size="11" fill="#ff8c00" text-anchor="start" >20</text>
<text x="129.0" y="478.5" font-size="11" fill="#000" text-anchor="end" >2.0</text>
<text x="250.0" y="478.5" font-size="11" fill="#ff8c00" text-anchor="start" >5</text>
<text x="129.0" y="498.5" font-size="11" fill="#000" text-anchor="end" >0.5</text>
<text x="250.0" y="498.5" font-size="11" fill="#ff8c00" text-anchor="start" >1</text>
<text x="129.0" y="517.5" font-size="11" fill="#000" text-anchor="end" >0.0</text>
<text x="250.0" y="517.5" font-size="11" fill="#ff8c00" text-anchor="start" >0</text>
<text x="129.0" y="526.8" font-size="11" fill="#000" text-anchor="end" >8</text>
<text x="250.0" y="526.8" font-size="11" fill="#ff8c00" text-anchor="start" >1</text>
<text x="129.0" y="546.8" font-size="11" fill="#000" text-anchor="end" >6</text>
<text x="250.0" y="546.8" font-size="11" fill="#ff8c00" text-anchor="start" >0.75</text>
<text x="129.0" y="566.0" font-size="11" fill="#000" text-anchor="end" >4</text>
<text x="250.0" y="566.0" font-size="11" fill="#ff8c00" text-anchor="start" >0.5</text>
<text x="129.0" y="585.5" font-size="11" fill="#000" text-anchor="end" >2</text>
<text x="250.0" y="585.5" font-size="11" fill="#ff8c00" text-anchor="start" >0.25</text>
<text x="129.0" y="604.5" font-size="11" fill="#000" text-anchor="end" >0</text>
<text x="250.0" y="604.5" font-size="11" fill="#ff8c00" text-anchor="start" >0</text>
<text x="164.0" y="51.5" font-size="12" fill="#000" text-anchor="middle" >20</text>
<text x="204.0" y="51.5" font-size="12" fill="#000" text-anchor="middle" >02</text>
<text x="245.0" y="51.5" font-size="12" fill="#000" text-anchor="middle" >08</text>
<text x="164.0" y="614.0" font-size="12" fill="#000" text-anchor="middle" >18</text>
<text x="204.0" y="614.0" font-size="12" fill="#000" text-anchor="middle" >00</text>
<text x="245.0" y="614.0" font-size="12" fill="#000" text-anchor="middle" >06</text>
<text x="5.8" y="18.2" font-size="11" fill="#000" text-anchor="start"  textLength="59.5" lengthAdjust="spacing">Czas lokalny</text>
<text x="5.8" y="29.2" font-size="11" fill="#000" text-anchor="start"  textLength="54.5" lengthAdjust="spacing">(CET/CEST)</text>
<text x="6.0" y="45.8" font-size="11" fill="#b22222" text-anchor="start"  textLength="93.5" lengthAdjust="spacing">Temperatura gruntu</text>
<text x="27.7" y="55.4" font-size="11" fill="#b22222" text-anchor="start"  textLength="38.3" lengthAdjust="spacing">max/min</text>
<text x="5.4" y="67.7" font-size="11" fill="#000" text-anchor="start"  textLength="62.3" lengthAdjust="spacing">Temperatura:</text>
<text x="12.6" y="79.6" font-size="11" fill="#ff0000" text-anchor="start"  textLength="76.6" lengthAdjust="spacing">punkt środkowy</text>
<text x="27.7" y="89.2" font-size="11" fill="#ffcab8" text-anchor="start"  textLength="38.3" lengthAdjust="spacing">max/min</text>
<text x="9.7" y="101.2" font-size="11" fill="#0000ff" text-anchor="start"  textLength="57.3" lengthAdjust="spacing">odczuwana</text>
<text x="27.7" y="111.2" font-size="11" fill="#b8e2fa" text-anchor="start"  textLength="38.3" lengthAdjust="spacing">max/min</text>
<text x="6.6" y="123.0" font-size="11" fill="#6a5acd" text-anchor="start"  textLength="86.4" lengthAdjust="spacing">Temp. punktu rosy</text>
<text x="5.8" y="140.1" font-size="11" fill="#ff0000" text-anchor="start"  textLength="94.7" lengthAdjust="spacing">Opad powyżej skali</text>
<text x="6.0" y="154.2" font-size="11" fill="#e8501a" text-anchor="start"  textLength="97" lengthAdjust="spacing">Wilgotność względna</text>
<text x="6.0" y="168.5" font-size="11" fill="#000" text-anchor="start"  textLength="85" lengthAdjust="spacing">Wystąpienie burzy</text>
<text x="6.0" y="181.9" font-size="11" fill="#10a010" text-anchor="start"  textLength="63" lengthAdjust="spacing">Deszcz: max</text>
<text x="49.0" y="193.5" font-size="11" fill="#10a010" text-anchor="start"  textLength="29" lengthAdjust="spacing">średni</text>
<text x="6.0" y="204.2" font-size="11" fill="#1a3acc" text-anchor="start"  textLength="29" lengthAdjust="spacing">Śnieg:</text>
<text x="49.0" y="204.2" font-size="11" fill="#1a3acc" text-anchor="start"  textLength="19" lengthAdjust="spacing">max</text>
<text x="49.0" y="215.0" font-size="11" fill="#1a3acc" text-anchor="start"  textLength="29" lengthAdjust="spacing">średni</text>
<text x="5.5" y="227.3" font-size="11" fill="#ff0000" text-anchor="start"  textLength="89" lengthAdjust="spacing">Wystąpienie opadu</text>
<text x="6.0" y="240.0" font-size="11" fill="#ff0000" text-anchor="start"  textLength="71" lengthAdjust="spacing">konwekcyjnego</text>
<text x="5.0" y="266.2" font-size="11" fill="#000" text-anchor="start"  textLength="42" lengthAdjust="spacing">Ciśnienie</text>
<text x="5.0" y="279.2" font-size="11" fill="#000" text-anchor="start"  textLength="66" lengthAdjust="spacing">zredukowane</text>
<text x="5.0" y="292.3" font-size="11" fill="#000" text-anchor="start"  textLength="87" lengthAdjust="spacing">do poziomu morza</text>
<text x="5.0" y="321.2" font-size="11" fill="#000" text-anchor="start"  textLength="66" lengthAdjust="spacing">Wiatr na 10m:</text>
<text x="9.5" y="338.0" font-size="11" fill="#ff0000" text-anchor="start"  textLength="101.5" lengthAdjust="spacing">poryw powyżej skali</text>
<text x="9.5" y="351.2" font-size="11" fill="#ff0000" text-anchor="start"  textLength="94.5" lengthAdjust="spacing">max porywy wiatru</text>
<text x="9.5" y="371.5" font-size="11" fill="#1a1aa0" text-anchor="start"  textLength="78.5" lengthAdjust="spacing">prędkość wiatru</text>
<text x="9.5" y="384.2" font-size="11" fill="#1a1aa0" text-anchor="start"  textLength="88.5" lengthAdjust="spacing">w środku obszaru</text>
<text x="9.5" y="412.7" font-size="11" fill="#1a1aa0" text-anchor="start"  textLength="73.5" lengthAdjust="spacing">kierunek wiatru</text>
<text x="6.0" y="432.7" font-size="11" fill="#b22222" text-anchor="start"  textLength="91" lengthAdjust="spacing">Wierzchołek chmur</text>
<text x="6.0" y="447.3" font-size="11" fill="#000" text-anchor="start"  textLength="85" lengthAdjust="spacing">Podstawa chmur*</text>
<text x="6.0" y="458.1" font-size="11" fill="#000" text-anchor="start"  textLength="47" lengthAdjust="spacing">o pokryciu</text>
<text x="10.5" y="471.2" font-size="11" fill="#000" text-anchor="start"  textLength="43.5" lengthAdjust="spacing">&gt; 7.9 okt.</text>
<text x="10.5" y="482.0" font-size="11" fill="#555" text-anchor="start"  textLength="43.5" lengthAdjust="spacing">&gt; 6.5 okt.</text>
<text x="10.5" y="492.7" font-size="11" fill="#999" text-anchor="start"  textLength="43.5" lengthAdjust="spacing">&gt; 4.5 okt.</text>
<text x="10.5" y="503.2" font-size="11" fill="#d0ccc4" text-anchor="start"  textLength="43.5" lengthAdjust="spacing">&gt; 2.5 okt.</text>
<rect x="11" y="505" width="44" height="11.5" fill="#87cefa"/>
<text x="11.0" y="514.5" font-size="11" fill="#ffffff" text-anchor="start"  textLength="43.5" lengthAdjust="spacing">&gt; 0.1 okt.</text>
<text x="6.0" y="529.6" font-size="11" fill="#ff8000" text-anchor="start"  textLength="57" lengthAdjust="spacing">Widzialność</text>
<text x="6.0" y="546.5" font-size="11" fill="#000" text-anchor="start"  textLength="38" lengthAdjust="spacing">Chmury:</text>
<rect x="10" y="551" width="41" height="11.7" fill="#87cefa"/>
<text x="10.0" y="560.0" font-size="11" fill="#ffffff" text-anchor="start"  textLength="41" lengthAdjust="spacing">wysokie</text>
<text x="10.0" y="573.0" font-size="11" fill="#a8a8a8" text-anchor="start"  textLength="35" lengthAdjust="spacing">średnie</text>
<text x="10.0" y="584.6" font-size="11" fill="#444" text-anchor="start"  textLength="26" lengthAdjust="spacing">niskie</text>
<text x="10.0" y="596.5" font-size="11" fill="#222" text-anchor="start"  textLength="61" lengthAdjust="spacing">bardzo niskie</text>
<text x="5.5" y="608.2" font-size="11" fill="#ffb000" text-anchor="start"  textLength="20.5" lengthAdjust="spacing">Mgła</text>
<text x="5.5" y="625.4" font-size="12" fill="#000" text-anchor="start"  textLength="131.5" lengthAdjust="spacing">Czas uniwersalny (UTC)</text>
<text x="5.0" y="650.8" font-size="9.2" fill="#000" text-anchor="start" font-weight="normal" stroke="#000" stroke-width="0.3" textLength="103" lengthAdjust="spacing">* powyżej poziomu morza</text>
<polyline points="68.0,15.5 133.3,15.5 156.7,43.3" fill="none" stroke="#000" stroke-width="1" stroke-linejoin="round" stroke-linecap="round" />
<polyline points="102.3,44.5 120.0,44.5 149.0,82.7" fill="none" stroke="#b22222" stroke-width="1" stroke-linejoin="round" stroke-linecap="round" />
<polyline points="92.0,76.5 115.0,76.5" fill="none" stroke="#ff0000" stroke-width="1" stroke-linejoin="round" stroke-linecap="round" />
<polyline points="130.0,76.0 134.0,77.0 171.0,111.4" fill="none" stroke="#ff0000" stroke-width="1" stroke-linejoin="round" stroke-linecap="round" />
<polyline points="70.0,99.5 130.0,99.5 137.0,103.0" fill="none" stroke="#0000ff" stroke-width="1" stroke-linejoin="round" stroke-linecap="round" />
<polyline points="95.0,120.5 131.0,120.5 142.0,113.0" fill="none" stroke="#6a5acd" stroke-width="1" stroke-linejoin="round" stroke-linecap="round" />
<polyline points="103.0,137.5 137.0,137.5 146.0,147.6" fill="none" stroke="#ff0000" stroke-width="1" stroke-linejoin="round" stroke-linecap="round" />
<polyline points="106.0,151.5 111.0,151.5" fill="none" stroke="#e8501a" stroke-width="1" stroke-linejoin="round" stroke-linecap="round" />
<polyline points="129.7,151.1 148.1,160.8" fill="none" stroke="#e8501a" stroke-width="1" stroke-linejoin="round" stroke-linecap="round" />
<polyline points="94.0,166.5 112.0,166.5" fill="none" stroke="#000" stroke-width="1" stroke-linejoin="round" stroke-linecap="round" />
<polyline points="129.5,165.5 133.0,166.5 139.3,173.0" fill="none" stroke="#000" stroke-width="1" stroke-linejoin="round" stroke-linecap="round" />
<polyline points="71.0,179.5 140.0,179.5" fill="none" stroke="#10a010" stroke-width="1" stroke-linejoin="round" stroke-linecap="round" />
<polyline points="80.0,190.5 140.0,190.5" fill="none" stroke="#10a010" stroke-width="1" stroke-linejoin="round" stroke-linecap="round" />
<polyline points="71.0,202.5 112.0,202.5" fill="none" stroke="#1a3acc" stroke-width="1" stroke-linejoin="round" stroke-linecap="round" />
<polyline points="130.5,202.0 160.4,171.3" fill="none" stroke="#1a3acc" stroke-width="1" stroke-linejoin="round" stroke-linecap="round" />
<polyline points="81.0,213.5 131.4,213.5 160.4,188.0" fill="none" stroke="#1a3acc" stroke-width="1" stroke-linejoin="round" stroke-linecap="round" />
<polyline points="97.0,224.5 140.0,224.5 145.0,219.0" fill="none" stroke="#ff0000" stroke-width="1" stroke-linejoin="round" stroke-linecap="round" />
<polyline points="51.0,264.5 133.0,264.5 137.0,262.0" fill="none" stroke="#000" stroke-width="1" stroke-linejoin="round" stroke-linecap="round" />
<polyline points="112.0,334.5 118.0,334.5" fill="none" stroke="#ff0000" stroke-width="1" stroke-linejoin="round" stroke-linecap="round" />
<polyline points="130.0,333.0 135.0,327.0 139.0,317.0" fill="none" stroke="#ff0000" stroke-width="1" stroke-linejoin="round" stroke-linecap="round" />
<circle cx="139" cy="317" r="1.5" fill="#ff0000"/>
<polyline points="106.0,348.5 133.0,348.5 142.0,341.0" fill="none" stroke="#ff0000" stroke-width="1" stroke-linejoin="round" stroke-linecap="round" />
<polyline points="92.0,367.5 138.0,367.5" fill="none" stroke="#1a1aa0" stroke-width="1" stroke-linejoin="round" stroke-linecap="round" />
<polyline points="86.0,410.5 138.0,410.5" fill="none" stroke="#1a1aa0" stroke-width="1" stroke-linejoin="round" stroke-linecap="round" />
<polyline points="99.6,429.5 132.3,429.5 184.7,448.0" fill="none" stroke="#b22222" stroke-width="1" stroke-linejoin="round" stroke-linecap="round" />
<polyline points="57.0,468.5 133.0,468.5 190.3,456.4" fill="none" stroke="#000" stroke-width="1" stroke-linejoin="round" stroke-linecap="round" />
<polyline points="57.0,480.5 133.0,480.5 142.0,479.0" fill="none" stroke="#555" stroke-width="1" stroke-linejoin="round" stroke-linecap="round" />
<polyline points="57.0,490.5 133.0,490.5 141.0,497.0" fill="none" stroke="#999" stroke-width="1" stroke-linejoin="round" stroke-linecap="round" />
<polyline points="57.0,500.5 133.0,500.5 138.0,506.0" fill="none" stroke="#d0ccc4" stroke-width="1" stroke-linejoin="round" stroke-linecap="round" />
<line x1="57.0" y1="510.5" x2="137.0" y2="510.5" stroke="#87cefa" stroke-width="3" />
<line x1="57.0" y1="510.5" x2="137.0" y2="510.5" stroke="#ffffff" stroke-width="1" />
<polyline points="67.0,527.5 129.5,527.5 173.5,464.9" fill="none" stroke="#ff9000" stroke-width="1" stroke-linejoin="round" stroke-linecap="round" />
<line x1="54.0" y1="557.5" x2="140.0" y2="557.5" stroke="#87cefa" stroke-width="3" />
<line x1="54.0" y1="557.5" x2="140.0" y2="557.5" stroke="#ffffff" stroke-width="1" />
<polyline points="48.0,571.5 140.0,571.5" fill="none" stroke="#999" stroke-width="1" stroke-linejoin="round" stroke-linecap="round" />
<polyline points="40.0,582.5 122.0,582.5" fill="none" stroke="#444" stroke-width="1" stroke-linejoin="round" stroke-linecap="round" />
<polyline points="130.0,582.5 137.0,582.5" fill="none" stroke="#444" stroke-width="1" stroke-linejoin="round" stroke-linecap="round" />
<polyline points="74.0,594.5 138.0,594.5" fill="none" stroke="#222" stroke-width="1" stroke-linejoin="round" stroke-linecap="round" />
<polyline points="30.0,605.5 216.0,605.5 219.0,599.0" fill="none" stroke="#ffb000" stroke-width="1.3" stroke-linejoin="round" stroke-linecap="round" />
<polyline points="137.0,622.5 147.0,622.5 158.0,606.0" fill="none" stroke="#000" stroke-width="1" stroke-linejoin="round" stroke-linecap="round" />
</svg></body></html>
